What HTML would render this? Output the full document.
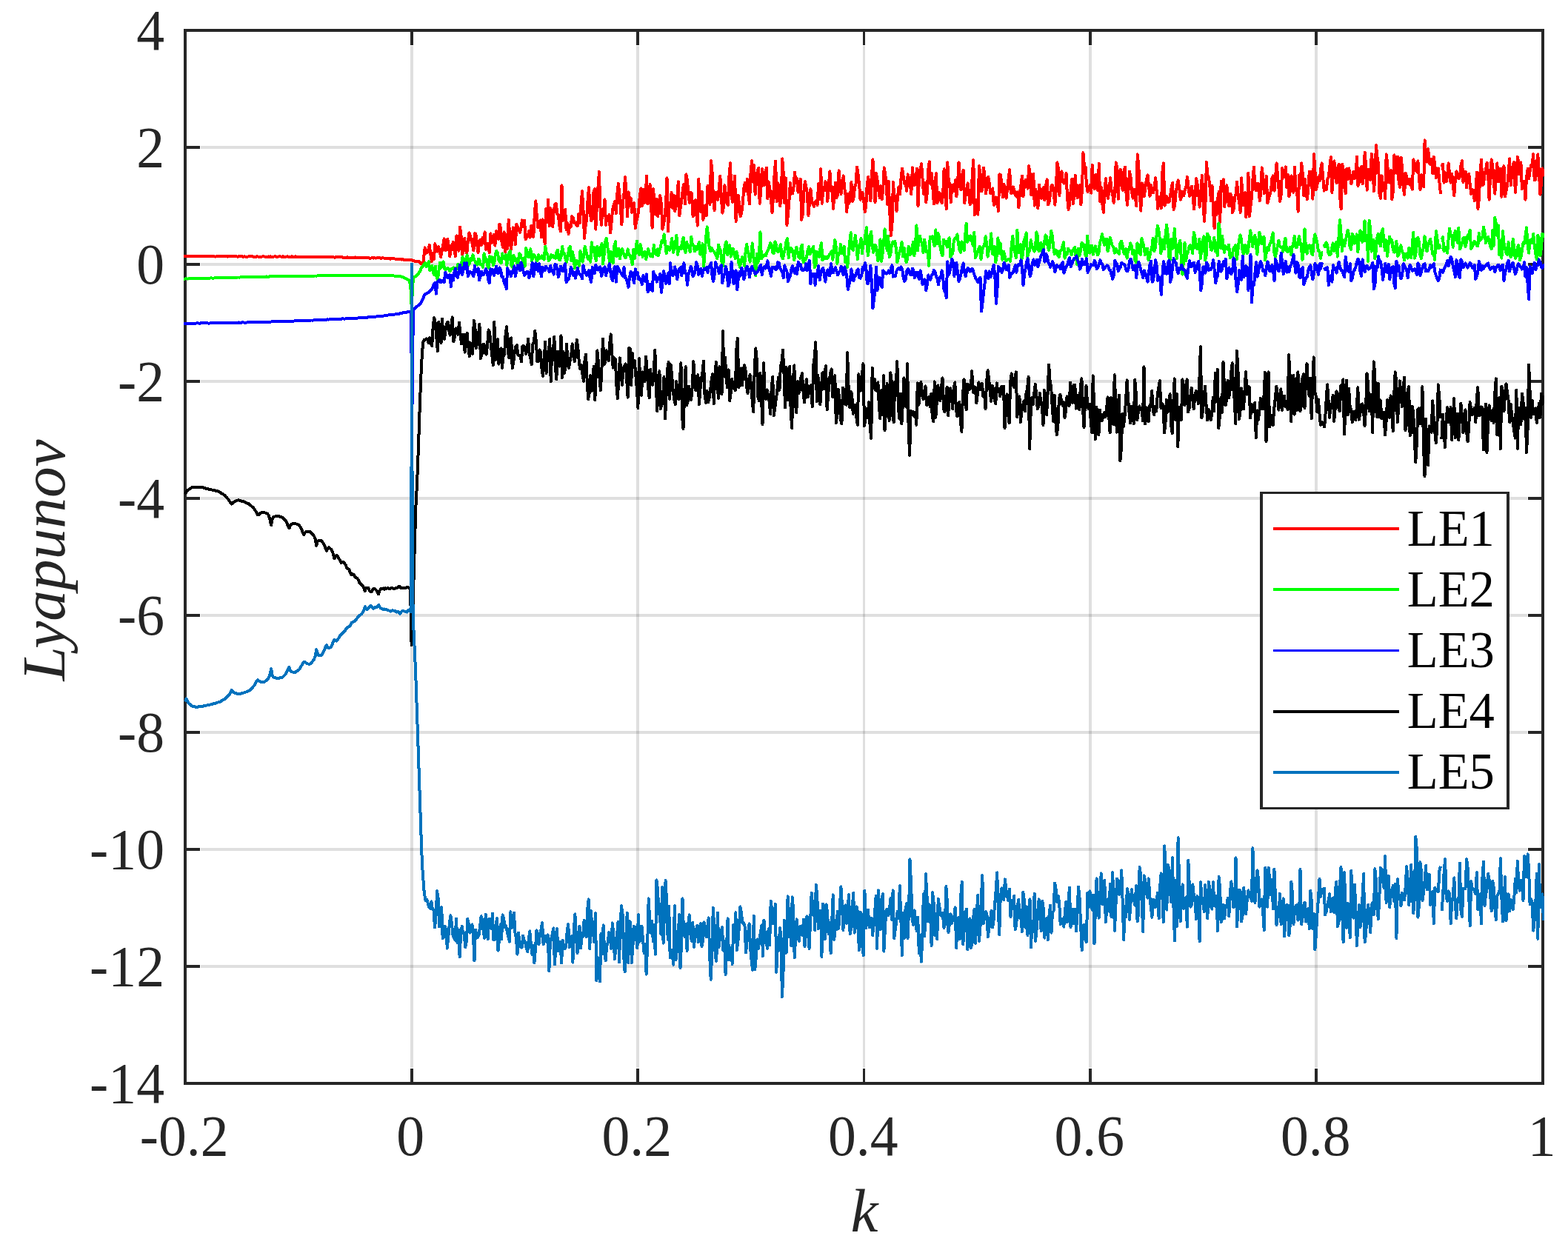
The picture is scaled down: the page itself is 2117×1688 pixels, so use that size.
<!DOCTYPE html>
<html lang="en"><head><meta charset="utf-8"><title>Lyapunov exponents versus k</title>
<style>
html,body{margin:0;padding:0;background:#fff;}
body{width:2117px;height:1688px;}
svg{display:block;}
text{font-family:"Liberation Serif",serif;}
.t{font-size:75.7px;fill:#262626;}
.l{font-size:83.3px;fill:#262626;font-style:italic;}
.g{font-size:68.6px;fill:#000;}
</style></head>
<body>
<svg width="2117" height="1688" viewBox="0 0 2117 1688">
<rect width="2117" height="1688" fill="#fff"/>
<g fill="#262626" fill-opacity="0.15" shape-rendering="crispEdges">
<rect x="554" y="62" width="4" height="1380"/>
<rect x="859" y="62" width="4" height="1380"/>
<rect x="1165" y="62" width="3" height="1380"/>
<rect x="1470" y="62" width="4" height="1380"/>
<rect x="1775" y="62" width="4" height="1380"/>
<rect x="271" y="197" width="1791" height="4"/>
<rect x="271" y="355" width="1791" height="4"/>
<rect x="271" y="513" width="1791" height="4"/>
<rect x="271" y="671" width="1791" height="4"/>
<rect x="271" y="829" width="1791" height="4"/>
<rect x="271" y="987" width="1791" height="4"/>
<rect x="271" y="1145" width="1791" height="4"/>
<rect x="271" y="1303" width="1791" height="4"/>
</g>
<g fill="#262626" shape-rendering="crispEdges">
<rect x="554" y="43" width="4" height="18"/><rect x="554" y="1443" width="4" height="18"/>
<rect x="859" y="43" width="4" height="18"/><rect x="859" y="1443" width="4" height="18"/>
<rect x="1165" y="43" width="3" height="18"/><rect x="1165" y="1443" width="3" height="18"/>
<rect x="1470" y="43" width="4" height="18"/><rect x="1470" y="1443" width="4" height="18"/>
<rect x="1775" y="43" width="4" height="18"/><rect x="1775" y="1443" width="4" height="18"/>
<rect x="252" y="197" width="18" height="4"/><rect x="2063" y="197" width="18" height="4"/>
<rect x="252" y="355" width="18" height="4"/><rect x="2063" y="355" width="18" height="4"/>
<rect x="252" y="513" width="18" height="4"/><rect x="2063" y="513" width="18" height="4"/>
<rect x="252" y="671" width="18" height="4"/><rect x="2063" y="671" width="18" height="4"/>
<rect x="252" y="829" width="18" height="4"/><rect x="2063" y="829" width="18" height="4"/>
<rect x="252" y="987" width="18" height="4"/><rect x="2063" y="987" width="18" height="4"/>
<rect x="252" y="1145" width="18" height="4"/><rect x="2063" y="1145" width="18" height="4"/>
<rect x="252" y="1303" width="18" height="4"/><rect x="2063" y="1303" width="18" height="4"/>
</g>
<rect x="250.0" y="41.0" width="1833.0" height="1422.0" fill="none" stroke="#262626" stroke-width="4" shape-rendering="crispEdges"/>
<defs><clipPath id="c"><rect x="248.0" y="39.0" width="1837.0" height="1426.0"/></clipPath></defs>
<g clip-path="url(#c)" fill="none" stroke-width="4" stroke-linejoin="round" stroke-linecap="butt" shape-rendering="crispEdges">
<polyline stroke="#ff0000" points="248.0,346.1 249.5,345.7 251.1,346.4 252.6,346.4 254.1,346.0 255.6,346.2 257.1,345.8 258.7,345.8 260.2,345.9 261.7,346.3 263.2,345.8 264.8,346.5 266.3,345.7 267.8,345.8 269.4,345.8 270.9,346.4 272.4,346.0 273.9,346.1 275.4,346.0 277.0,346.3 278.5,346.1 280.0,345.9 281.6,346.1 283.1,346.0 284.6,345.9 286.1,346.5 287.6,346.4 289.2,346.4 290.7,346.6 292.2,346.2 293.8,346.2 295.3,346.2 296.8,346.2 298.3,346.4 299.9,345.9 301.4,346.3 302.9,346.3 304.4,346.2 305.9,345.9 307.5,346.5 309.0,345.9 310.5,346.4 312.1,346.0 313.6,345.9 315.1,346.1 316.6,346.0 318.1,346.1 319.7,346.5 321.2,346.6 322.7,346.3 324.2,346.5 325.8,346.4 327.3,346.4 328.8,346.8 330.3,346.3 331.9,346.8 333.4,346.6 334.9,346.6 336.4,346.0 338.0,346.1 339.5,346.0 341.0,346.3 342.6,346.9 344.1,346.8 345.6,346.8 347.1,346.1 348.6,346.7 350.2,346.7 351.7,346.8 353.2,346.8 354.8,346.2 356.3,346.3 357.8,346.8 359.3,346.8 360.8,346.9 362.4,346.5 363.9,346.9 365.4,346.3 366.9,347.0 368.5,347.0 370.0,346.5 371.5,346.3 373.0,346.7 374.6,346.8 376.1,346.5 377.6,346.3 379.1,346.5 380.7,347.0 382.2,346.3 383.7,347.1 385.2,346.5 386.8,346.5 388.3,346.4 389.8,347.2 391.4,347.1 392.9,346.6 394.4,346.4 395.9,346.9 397.4,347.2 399.0,346.4 400.5,347.0 402.0,347.2 403.5,346.8 405.1,346.9 406.6,347.2 408.1,346.7 409.6,346.7 411.2,347.1 412.7,347.0 414.2,347.0 415.8,346.8 417.3,347.4 418.8,346.8 420.3,347.2 421.9,347.4 423.4,346.9 424.9,346.6 426.4,346.8 427.9,346.7 429.5,346.8 431.0,346.8 432.5,347.0 434.0,347.0 435.6,347.1 437.1,347.3 438.6,347.3 440.1,347.4 441.7,347.1 443.2,347.4 444.7,347.3 446.2,346.9 447.8,347.3 449.3,347.1 450.8,347.5 452.4,347.6 453.9,347.1 455.4,347.3 456.9,347.4 458.4,347.3 460.0,347.1 461.5,347.1 463.0,348.0 464.5,347.8 466.1,347.5 467.6,347.8 469.1,347.4 470.6,347.9 472.2,348.1 473.7,348.0 475.2,347.7 476.8,348.2 478.3,348.2 479.8,347.4 481.3,347.8 482.8,347.8 484.4,347.7 485.9,348.0 487.4,347.6 488.9,348.2 490.5,348.3 492.0,347.7 493.5,348.2 495.0,347.9 496.6,348.3 498.1,348.4 499.6,348.7 501.1,348.5 502.7,348.2 504.2,348.6 505.7,348.1 507.2,348.6 508.8,348.4 510.3,348.3 511.8,348.3 513.3,348.4 514.9,348.9 516.4,348.3 517.9,348.5 519.5,348.5 521.0,348.6 522.5,349.2 524.0,349.1 525.5,349.3 527.1,349.6 528.6,349.3 530.1,349.0 531.6,349.2 533.2,349.6 534.7,349.9 536.2,350.2 537.8,349.9 539.3,349.7 540.8,350.2 542.3,350.6 543.8,350.2 545.4,350.9 546.9,351.1 548.4,350.9 550.0,351.0 551.5,350.7 553.0,350.8 554.5,350.8 556.0,351.4 557.6,351.7 559.1,352.5 560.6,352.8 562.1,353.2 563.7,352.6 565.2,353.0 566.7,354.4 568.2,355.8 569.8,356.4 571.3,354.9 573.7,334.4 575.2,341.6 576.8,341.2 578.3,337.4 579.8,331.1 581.3,344.1 582.9,353.0 584.4,342.0 585.9,350.1 587.4,329.2 589.0,337.8 590.5,339.7 592.0,333.4 593.5,338.6 595.1,347.3 596.6,339.4 598.1,331.7 599.7,322.5 601.2,338.3 602.7,336.3 604.2,322.5 605.8,332.2 607.3,346.3 608.8,336.9 610.3,331.4 611.9,326.8 613.4,337.9 614.9,346.3 616.5,318.3 618.0,328.3 619.5,338.8 621.0,306.4 622.6,319.2 624.1,344.0 625.6,338.9 627.1,322.0 628.7,332.9 630.2,342.5 631.7,327.4 633.3,314.5 634.8,317.7 636.3,325.1 637.8,329.8 639.4,338.3 640.9,315.4 642.4,315.9 643.9,327.0 645.5,341.1 647.0,329.7 648.5,323.6 650.0,330.7 651.6,320.6 653.1,328.6 654.6,313.5 656.2,336.9 657.7,335.0 659.2,328.9 660.7,341.1 662.3,315.4 663.8,328.3 665.3,327.1 666.8,316.8 668.4,331.6 669.9,312.2 671.4,321.5 673.0,322.6 674.5,302.6 676.0,307.8 677.5,327.0 679.1,334.0 680.6,313.5 682.1,340.2 683.6,317.1 685.2,335.9 686.7,296.5 688.2,316.0 689.8,336.9 691.3,326.3 692.8,307.4 694.3,311.3 695.9,330.2 697.4,302.6 698.9,306.9 700.4,309.5 702.0,314.1 703.5,307.2 705.0,297.4 706.5,306.3 708.1,297.9 709.6,323.1 711.1,320.7 712.7,318.5 714.2,312.1 715.7,320.7 717.2,304.5 718.8,310.8 720.3,319.8 721.8,288.7 723.3,271.3 724.9,293.8 726.4,307.5 727.9,301.8 729.5,297.4 731.0,320.3 732.5,296.5 734.0,309.0 735.6,329.3 737.1,282.2 738.6,300.4 740.1,269.4 741.7,305.2 743.2,281.3 744.7,287.9 746.3,306.1 747.8,283.7 749.3,275.6 750.8,275.1 752.4,289.0 753.9,290.1 755.4,305.7 756.9,312.4 758.5,250.2 760.0,298.2 761.5,291.3 763.1,282.9 764.6,310.3 766.1,301.4 767.6,316.0 769.2,303.7 770.7,306.0 772.2,292.2 773.7,293.8 775.3,300.8 776.8,301.1 778.3,304.6 779.8,305.3 781.4,288.6 782.9,301.3 784.4,277.1 786.0,258.1 787.5,283.4 789.0,321.7 790.5,305.5 792.1,296.2 793.6,269.5 795.1,253.1 796.6,285.4 798.2,298.2 799.7,295.9 801.2,260.6 802.8,255.2 804.3,309.6 805.8,280.0 807.3,255.4 808.9,232.0 810.4,279.1 811.9,303.9 813.4,284.1 815.0,285.4 816.5,269.4 818.0,303.9 819.6,292.4 821.1,296.7 822.6,290.1 824.1,314.6 825.7,299.4 827.2,282.1 828.7,276.6 830.2,271.6 831.8,288.3 833.3,262.1 834.8,248.1 836.3,260.3 837.9,280.5 839.4,303.2 840.9,274.3 842.5,261.6 844.0,239.2 845.5,258.5 847.0,292.5 848.6,259.5 850.1,278.6 851.6,267.3 853.1,286.9 854.7,275.6 856.2,274.4 857.7,307.9 859.3,298.6 860.8,292.7 862.3,284.1 863.8,263.9 865.4,254.5 866.9,278.3 868.4,255.9 869.9,274.1 871.5,271.5 873.0,237.5 874.5,275.5 876.1,271.1 877.6,249.0 879.1,278.8 880.6,307.5 882.2,255.2 883.7,281.2 885.2,289.6 886.7,268.7 888.3,292.5 889.8,272.9 891.3,264.2 892.8,274.7 894.4,309.6 895.9,303.2 897.4,294.4 899.0,275.9 900.5,240.3 902.0,312.4 903.5,281.0 905.1,277.0 906.6,259.9 908.1,280.9 909.6,263.8 911.2,285.4 912.7,278.7 914.2,266.9 915.8,245.3 917.3,291.1 918.8,280.0 920.3,270.2 921.9,255.5 923.4,248.8 924.9,275.5 926.4,235.3 928.0,243.8 929.5,263.7 931.0,273.9 932.6,259.8 934.1,261.6 935.6,292.5 937.1,290.1 938.7,270.2 940.2,273.2 941.7,304.6 943.2,242.0 944.8,266.6 946.3,286.4 947.8,258.8 949.4,296.8 950.9,286.3 952.4,277.5 953.9,291.1 955.5,251.0 957.0,265.1 958.5,275.9 960.0,217.3 961.6,233.4 963.1,270.2 964.6,284.0 966.1,259.5 967.7,267.1 969.2,270.0 970.7,254.9 972.3,237.5 973.8,264.9 975.3,287.6 976.8,280.8 978.4,250.2 979.9,262.7 981.4,274.2 982.9,276.9 984.5,237.3 986.0,220.1 987.5,265.3 989.1,272.9 990.6,255.6 992.1,237.5 993.6,298.9 995.2,280.1 996.7,263.8 998.2,278.0 999.7,292.5 1001.3,286.8 1002.8,275.1 1004.3,254.3 1005.9,246.7 1007.4,258.4 1008.9,241.7 1010.4,263.4 1012.0,275.5 1013.5,234.7 1015.0,217.1 1016.5,245.7 1018.1,223.2 1019.6,262.7 1021.1,243.9 1022.6,231.0 1024.2,226.5 1025.7,274.8 1027.2,258.5 1028.8,228.2 1030.3,240.6 1031.8,250.3 1033.3,232.1 1034.9,226.5 1036.4,268.4 1037.9,246.0 1039.4,255.0 1041.0,269.6 1042.5,286.9 1044.0,267.0 1045.6,235.4 1047.1,217.5 1048.6,272.3 1050.1,247.4 1051.7,251.1 1053.2,278.3 1054.7,267.1 1056.2,214.4 1057.8,234.3 1059.3,274.2 1060.8,240.3 1062.4,303.9 1063.9,290.9 1065.4,271.2 1066.9,246.7 1068.5,261.7 1070.0,261.3 1071.5,253.5 1073.0,232.5 1074.6,247.4 1076.1,241.1 1077.6,259.6 1079.1,254.6 1080.7,241.7 1082.2,296.8 1083.7,289.5 1085.3,258.9 1086.8,245.3 1088.3,252.4 1089.8,260.4 1091.4,291.1 1092.9,275.3 1094.4,255.2 1095.9,269.8 1097.5,275.8 1099.0,279.0 1100.5,273.0 1102.1,271.4 1103.6,276.9 1105.1,248.1 1106.6,269.0 1108.2,228.2 1109.7,274.8 1111.2,258.6 1112.7,256.7 1114.3,245.3 1115.8,247.0 1117.3,271.9 1118.9,249.5 1120.4,231.5 1121.9,257.9 1123.4,252.2 1125.0,281.9 1126.5,260.5 1128.0,246.7 1129.5,267.1 1131.1,263.3 1132.6,230.3 1134.1,248.8 1135.6,262.0 1137.2,250.3 1138.7,237.5 1140.2,253.9 1141.8,264.7 1143.3,286.1 1144.8,261.6 1146.3,274.8 1147.9,265.7 1149.4,246.0 1150.9,271.9 1152.4,267.8 1154.0,253.2 1155.5,248.1 1157.0,225.4 1158.6,235.5 1160.1,249.4 1161.6,269.8 1163.1,265.4 1164.7,260.2 1166.2,270.7 1167.7,286.1 1169.2,278.7 1170.8,248.2 1172.3,238.9 1173.8,256.5 1175.4,271.1 1176.9,238.5 1178.4,215.4 1179.9,239.6 1181.5,273.3 1183.0,233.9 1184.5,242.9 1186.0,254.9 1187.6,267.0 1189.1,251.0 1190.6,269.3 1192.2,256.6 1193.7,226.4 1195.2,235.2 1196.7,250.8 1198.3,276.2 1199.8,244.6 1201.3,286.8 1202.8,318.1 1204.4,305.1 1205.9,246.0 1207.4,266.6 1208.9,264.6 1210.5,285.2 1212.0,265.4 1213.5,252.4 1215.1,262.5 1216.6,239.4 1218.1,227.5 1219.6,237.3 1221.2,248.1 1222.7,247.6 1224.2,257.7 1225.7,235.3 1227.3,241.6 1228.8,249.0 1230.3,262.0 1231.9,226.4 1233.4,244.3 1234.9,250.2 1236.4,244.1 1238.0,227.5 1239.5,278.3 1241.0,239.2 1242.5,228.3 1244.1,221.1 1245.6,242.6 1247.1,262.0 1248.7,246.7 1250.2,273.3 1251.7,261.5 1253.2,228.9 1254.8,218.3 1256.3,248.6 1257.8,233.9 1259.3,253.1 1260.9,275.5 1262.4,247.7 1263.9,234.3 1265.4,274.2 1267.0,271.0 1268.5,260.2 1270.0,265.4 1271.6,274.1 1273.1,264.6 1274.6,228.2 1276.1,252.2 1277.7,282.3 1279.2,219.3 1280.7,242.6 1282.2,248.7 1283.8,273.3 1285.3,249.5 1286.8,250.8 1288.4,258.2 1289.9,243.1 1291.4,265.5 1292.9,249.8 1294.5,219.3 1296.0,241.5 1297.5,256.5 1299.0,239.1 1300.6,229.6 1302.1,274.1 1303.6,264.6 1305.2,255.2 1306.7,247.4 1308.2,261.9 1309.7,276.2 1311.3,272.8 1312.8,234.7 1314.3,216.1 1315.8,290.4 1317.4,281.7 1318.9,269.7 1320.4,289.7 1321.9,224.2 1323.5,234.3 1325.0,258.6 1326.5,254.4 1328.1,226.4 1329.6,239.9 1331.1,261.3 1332.6,249.0 1334.2,238.9 1335.7,246.8 1337.2,261.2 1338.7,261.1 1340.3,254.5 1341.8,276.9 1343.3,275.7 1344.9,266.4 1346.4,267.6 1347.9,285.2 1349.4,235.3 1351.0,236.0 1352.5,250.0 1354.0,266.2 1355.5,248.8 1357.1,257.1 1358.6,267.7 1360.1,255.4 1361.7,240.7 1363.2,229.2 1364.7,260.6 1366.2,260.7 1367.8,252.4 1369.3,255.9 1370.8,263.8 1372.3,264.8 1373.9,259.5 1375.4,280.5 1376.9,260.6 1378.5,249.2 1380.0,237.5 1381.5,265.5 1383.0,250.4 1384.6,243.1 1386.1,242.7 1387.6,254.8 1389.1,224.2 1390.7,234.7 1392.2,263.0 1393.7,243.5 1395.2,234.6 1396.8,277.6 1398.3,256.1 1399.8,264.7 1401.4,281.5 1402.9,249.5 1404.4,257.4 1405.9,267.8 1407.5,257.9 1409.0,253.1 1410.5,270.5 1412.0,251.5 1413.6,242.4 1415.1,276.6 1416.6,272.7 1418.2,260.5 1419.7,250.2 1421.2,250.4 1422.7,260.6 1424.3,276.6 1425.8,255.5 1427.3,219.3 1428.8,226.9 1430.4,264.1 1431.9,240.5 1433.4,231.5 1435.0,245.6 1436.5,247.6 1438.0,246.8 1439.5,233.9 1441.1,268.1 1442.6,282.9 1444.1,276.1 1445.6,258.1 1447.2,241.7 1448.7,275.5 1450.2,266.0 1451.7,236.7 1453.3,259.7 1454.8,267.0 1456.3,251.0 1457.9,250.2 1459.4,276.2 1460.9,257.2 1462.4,206.2 1464.0,224.6 1465.5,225.3 1467.0,249.6 1468.5,259.1 1470.1,254.7 1471.6,250.2 1473.1,260.6 1474.7,222.5 1476.2,248.3 1477.7,255.3 1479.2,236.0 1480.8,253.7 1482.3,257.4 1483.8,220.7 1485.3,271.9 1486.9,253.3 1488.4,276.3 1489.9,286.9 1491.5,256.5 1493.0,241.0 1494.5,262.8 1496.0,267.7 1497.6,255.4 1499.1,240.3 1500.6,256.4 1502.1,261.5 1503.7,273.8 1505.2,260.9 1506.7,219.3 1508.2,227.3 1509.8,268.7 1511.3,232.5 1512.8,228.9 1514.4,251.2 1515.9,256.7 1517.4,231.8 1518.9,225.6 1520.5,260.5 1522.0,276.9 1523.5,257.2 1525.0,231.5 1526.6,240.0 1528.1,259.6 1529.6,267.7 1531.2,255.9 1532.7,264.8 1534.2,278.2 1535.7,208.3 1537.3,222.9 1538.8,263.0 1540.3,284.7 1541.8,247.4 1543.4,249.3 1544.9,265.4 1546.4,252.5 1548.0,241.9 1549.5,236.5 1551.0,250.7 1552.5,264.8 1554.1,250.2 1555.6,256.9 1557.1,260.4 1558.6,252.0 1560.2,240.3 1561.7,258.2 1563.2,281.9 1564.8,265.9 1566.3,275.7 1567.8,281.1 1569.3,233.1 1570.9,220.4 1572.4,277.6 1573.9,273.1 1575.4,265.2 1577.0,273.3 1578.5,272.7 1580.0,264.2 1581.5,254.2 1583.1,246.7 1584.6,282.9 1586.1,277.3 1587.7,258.9 1589.2,249.6 1590.7,243.4 1592.2,253.4 1593.8,269.7 1595.3,265.3 1596.8,258.8 1598.3,264.1 1599.9,255.4 1601.4,252.4 1602.9,238.6 1604.5,251.8 1606.0,265.0 1607.5,260.5 1609.0,251.7 1610.6,265.1 1612.1,282.6 1613.6,265.3 1615.1,241.0 1616.7,248.7 1618.2,262.2 1619.7,279.7 1621.3,267.1 1622.8,236.5 1624.3,258.2 1625.8,298.9 1627.4,277.6 1628.9,218.7 1630.4,237.2 1631.9,238.7 1633.5,253.1 1635.0,271.2 1636.5,251.0 1638.0,284.3 1639.6,308.5 1641.1,273.0 1642.6,290.1 1644.2,267.6 1645.7,258.8 1647.2,299.7 1648.7,244.6 1650.3,248.6 1651.8,242.4 1653.3,279.0 1654.8,260.9 1656.4,250.2 1657.9,270.6 1659.4,278.2 1661.0,261.6 1662.5,265.1 1664.0,287.1 1665.5,283.1 1667.1,266.4 1668.6,261.8 1670.1,245.7 1671.6,265.8 1673.2,273.2 1674.7,286.9 1676.2,240.3 1677.8,276.8 1679.3,276.7 1680.8,260.2 1682.3,293.0 1683.9,277.0 1685.4,233.5 1686.9,292.1 1688.4,279.1 1690.0,266.6 1691.5,241.0 1693.0,225.4 1694.5,255.6 1696.1,257.3 1697.6,248.1 1699.1,248.1 1700.7,270.9 1702.2,262.2 1703.7,226.4 1705.2,239.4 1706.8,261.0 1708.3,257.6 1709.8,237.5 1711.3,274.1 1712.9,267.9 1714.4,263.0 1715.9,257.7 1717.5,240.6 1719.0,237.5 1720.5,257.7 1722.0,239.7 1723.6,220.4 1725.1,238.1 1726.6,255.8 1728.1,271.9 1729.7,262.4 1731.2,227.2 1732.7,231.9 1734.3,239.5 1735.8,225.4 1737.3,252.9 1738.8,236.0 1740.4,265.5 1741.9,257.3 1743.4,237.5 1744.9,253.1 1746.5,259.8 1748.0,225.8 1749.5,256.5 1751.0,254.9 1752.6,285.7 1754.1,236.7 1755.6,250.4 1757.2,220.4 1758.7,233.2 1760.2,264.1 1761.7,241.7 1763.3,255.4 1764.8,269.1 1766.3,255.4 1767.8,231.5 1769.4,231.7 1770.9,246.4 1772.4,268.7 1774.0,208.3 1775.5,231.6 1777.0,256.2 1778.5,248.7 1780.1,238.9 1781.6,244.2 1783.1,228.6 1784.6,220.4 1786.2,238.8 1787.7,257.7 1789.2,251.7 1790.8,256.0 1792.3,242.3 1793.8,239.4 1795.3,224.9 1796.9,212.3 1798.4,260.1 1799.9,226.2 1801.4,217.5 1803.0,239.5 1804.5,247.0 1806.0,227.3 1807.6,221.8 1809.1,264.6 1810.6,282.2 1812.1,221.8 1813.7,229.0 1815.2,253.0 1816.7,261.0 1818.2,227.5 1819.8,241.9 1821.3,227.5 1822.8,236.4 1824.3,248.5 1825.9,240.4 1827.4,231.8 1828.9,240.8 1830.5,238.5 1832.0,211.6 1833.5,251.0 1835.0,246.5 1836.6,229.2 1838.1,224.7 1839.6,248.5 1841.1,238.3 1842.7,205.5 1844.2,225.0 1845.7,256.7 1847.3,228.9 1848.8,234.5 1850.3,242.9 1851.8,207.6 1853.4,222.0 1854.9,258.4 1856.4,239.5 1857.9,196.2 1859.5,212.2 1861.0,220.7 1862.5,261.5 1864.1,268.1 1865.6,237.5 1867.1,255.6 1868.6,247.2 1870.2,268.1 1871.7,208.3 1873.2,220.3 1874.7,246.1 1876.3,230.8 1877.8,230.3 1879.3,269.1 1880.8,258.6 1882.4,209.3 1883.9,216.8 1885.4,233.6 1887.0,211.9 1888.5,244.3 1890.0,252.7 1891.5,212.6 1893.1,226.4 1894.6,251.9 1896.1,263.0 1897.6,233.9 1899.2,238.5 1900.7,248.2 1902.2,248.6 1903.8,241.7 1905.3,251.3 1906.8,255.6 1908.3,215.4 1909.9,220.5 1911.4,229.6 1912.9,231.6 1914.4,217.5 1916.0,242.2 1917.5,256.0 1919.0,236.0 1920.6,242.6 1922.1,252.2 1923.6,189.4 1925.1,207.5 1926.7,218.6 1928.2,201.2 1929.7,219.9 1931.2,221.8 1932.8,214.7 1934.3,234.3 1935.8,211.6 1937.3,222.2 1938.9,240.0 1940.4,228.5 1941.9,227.5 1943.5,247.0 1945.0,262.0"/>
<polyline stroke="#ff0000" points="1946.5,225.0 1948.0,221.5 1949.6,246.8 1951.1,233.2 1952.6,245.3 1954.1,237.4 1955.7,220.4 1957.2,236.9 1958.7,246.6 1960.3,234.6 1961.8,250.3 1963.3,264.1 1964.8,242.9 1966.4,231.5 1967.9,233.9 1969.4,241.4 1970.9,238.6 1972.5,223.6 1974.0,217.3 1975.5,246.0 1977.1,242.5 1978.6,231.8 1980.1,253.4 1981.6,236.9 1983.2,234.6 1984.7,248.4 1986.2,261.7 1987.7,255.9 1989.3,256.6 1990.8,271.4 1992.3,262.7 1993.9,232.5 1995.4,281.9 1996.9,268.3 1998.4,232.8 2000.0,215.4 2001.5,249.9 2003.0,248.3 2004.5,236.0 2006.1,228.9 2007.6,219.7 2009.1,233.7 2010.6,269.8 2012.2,234.6 2013.7,215.4 2015.2,223.6 2016.8,246.4 2018.3,261.7 2019.8,236.3 2021.3,220.4 2022.9,245.6 2024.4,233.3 2025.9,227.5 2027.4,265.8 2029.0,242.8 2030.5,224.2 2032.0,265.5 2033.6,257.6 2035.1,249.9 2036.6,234.5 2038.1,214.4 2039.7,249.9 2041.2,235.5 2042.7,222.2 2044.2,219.0 2045.8,259.8 2047.3,241.4 2048.8,212.1 2050.4,219.6 2051.9,235.3 2053.4,219.3 2054.9,255.2 2056.5,247.3 2058.0,244.6 2059.5,269.8 2061.0,239.6 2062.6,228.2 2064.1,241.4 2065.6,231.3 2067.1,223.6 2068.7,220.8 2070.2,208.3 2071.7,243.5 2073.3,242.6 2074.8,220.5 2076.3,208.3 2077.8,230.6 2079.4,262.7 2080.9,247.7 2082.4,227.5 2083.9,235.7 2085.5,234.7 2087.0,234.7"/>
<polyline stroke="#00ff00" points="248.0,376.5 249.5,376.6 251.1,376.4 252.6,376.5 254.1,376.5 255.7,376.3 257.2,376.4 258.7,376.3 260.2,376.1 261.8,376.2 263.3,376.2 264.8,376.1 266.4,376.2 267.9,376.1 269.4,376.0 271.0,375.9 272.5,375.8 274.0,375.9 275.5,375.9 277.1,375.8 278.6,375.7 280.1,375.7 281.7,375.6 283.2,375.6 284.7,375.4 286.3,375.5 287.8,375.5 289.3,375.5 290.8,375.3 292.4,375.2 293.9,375.2 295.4,375.3 297.0,375.2 298.5,375.2 300.0,375.1 301.6,375.0 303.1,375.1 304.6,374.9 306.2,374.9 307.7,374.9 309.2,374.9 310.7,374.8 312.3,374.8 313.8,374.7 315.3,374.7 316.9,374.7 318.4,374.7 319.9,374.6 321.5,374.5 323.0,374.6 324.5,374.4 326.0,374.4 327.6,374.5 329.1,374.4 330.6,374.2 332.2,374.3 333.7,374.2 335.2,374.3 336.8,374.2 338.3,374.1 339.8,374.2 341.3,374.0 342.9,374.0 344.4,374.1 345.9,374.1 347.5,373.8 349.0,373.7 350.5,373.9 352.1,373.9 353.6,373.7 355.1,373.7 356.7,373.8 358.2,373.8 359.7,373.5 361.2,373.6 362.8,373.6 364.3,373.4 365.8,373.5 367.4,373.4 368.9,373.4 370.4,373.3 372.0,373.2 373.5,373.3 375.0,373.2 376.5,373.2 378.1,373.2 379.6,373.2 381.1,373.2 382.7,373.2 384.2,373.1 385.7,373.0 387.3,373.0 388.8,373.0 390.3,373.1 391.8,372.9 393.4,373.0 394.9,373.1 396.4,373.0 398.0,372.9 399.5,373.0 401.0,372.9 402.6,372.7 404.1,372.7 405.6,372.7 407.2,372.8 408.7,372.7 410.2,372.8 411.7,372.8 413.3,372.8 414.8,372.6 416.3,372.5 417.9,372.5 419.4,372.5 420.9,372.6 422.5,372.6 424.0,372.6 425.5,372.5 427.0,372.6 428.6,372.5 430.1,372.4 431.6,372.5 433.2,372.3 434.7,372.4 436.2,372.4 437.8,372.4 439.3,372.1 440.8,372.1 442.3,372.3 443.9,372.1 445.4,372.1 446.9,372.2 448.5,372.1 450.0,372.2 451.5,372.2 453.1,372.0 454.6,371.9 456.1,372.1 457.7,371.9 459.2,371.9 460.7,371.8 462.2,371.7 463.8,371.9 465.3,371.8 466.8,371.9 468.4,372.0 469.9,371.9 471.4,372.0 473.0,371.7 474.5,371.9 476.0,371.9 477.5,372.0 479.1,371.7 480.6,371.9 482.1,371.9 483.7,371.9 485.2,371.8 486.7,371.8 488.3,372.0 489.8,371.9 491.3,371.9 492.8,372.0 494.4,371.8 495.9,371.7 497.4,371.9 499.0,371.7 500.5,371.9 502.0,371.9 503.6,371.7 505.1,371.7 506.6,371.7 508.2,371.7 509.7,372.0 511.2,371.8 512.7,372.0 514.3,371.8 515.8,371.8 517.3,371.9 518.9,371.8 520.4,372.0 521.9,371.9 523.5,372.0 525.0,372.0 526.5,372.0 528.0,372.3 529.6,372.2 531.1,372.4 532.6,372.6 534.2,372.6 535.7,372.7 537.2,373.0 538.8,373.3 540.3,373.3 541.8,373.6 543.3,374.1 544.9,374.5 546.4,375.2 547.9,376.0 549.5,377.0 551.0,377.5 552.6,379.5 553.9,384.0 554.6,392.0 555.0,402.0 555.6,413.0 556.4,402.0 556.9,394.0 557.3,384.0 558.2,376.5 559.6,374.0 562.0,372.6 564.2,370.3 567.0,366.5 569.0,361.7 571.0,359.3 572.6,357.0 574.2,355.2 575.7,360.1 577.2,357.8 578.8,353.3 580.3,365.3 581.8,361.9 583.3,358.7 584.9,368.4 586.4,371.0 587.9,359.5 589.5,373.6 591.0,377.6 592.5,365.0 594.0,354.7 595.6,361.7 597.1,355.7 598.6,353.3 600.1,362.6 601.7,364.3 603.2,362.6 604.7,362.3 606.3,364.3 607.8,366.2 609.3,363.3 610.8,362.7 612.4,361.4 613.9,363.2 615.4,362.2 617.0,363.4 618.5,356.6 620.0,357.7 621.5,361.1 623.1,355.2 624.6,347.2 626.1,361.5 627.7,350.1 629.2,351.4 630.7,344.3 632.2,358.2 633.8,355.5 635.3,348.6 636.8,351.6 638.4,344.3 639.9,350.2 641.4,352.7 642.9,356.5 644.5,357.7 646.0,349.5 647.5,351.0 649.0,357.5 650.6,357.4 652.1,360.6 653.6,342.4 655.2,348.8 656.7,350.2 658.2,359.4 659.7,361.5 661.3,346.2 662.8,352.8 664.3,347.2 665.9,358.2 667.4,355.0 668.9,343.2 670.4,339.1 672.0,341.8 673.5,351.8 675.0,353.9 676.6,355.3 678.1,342.4 679.6,349.4 681.1,347.1 682.7,343.8 684.2,358.2 685.7,350.7 687.3,342.0 688.8,338.6 690.3,357.8 691.8,360.6 693.4,344.8 694.9,348.9 696.4,349.2 697.9,355.6 699.5,356.8 701.0,342.4 702.5,343.6 704.1,348.8 705.6,348.7 707.1,356.6 708.6,359.6 710.2,335.3 711.7,341.0 713.2,347.5 714.8,341.8 716.3,336.3 717.8,352.0 719.3,348.7 720.9,343.8 722.4,346.2 723.9,350.1 725.5,352.0 727.0,344.3 728.5,349.4 730.0,348.3 731.6,345.3 733.1,349.4 734.6,350.6 736.2,332.9 737.7,341.1 739.2,343.5 740.7,352.0 742.3,350.9 743.8,344.3 745.3,347.4 746.8,344.8 748.4,347.8 749.9,348.8 751.4,340.9 753.0,337.7 754.5,349.7 756.0,351.5 757.5,347.5 759.1,332.7 760.6,340.6 762.1,342.5 763.7,350.8 765.2,353.7 766.7,345.7 768.2,335.5 769.8,332.7 771.3,352.1 772.8,339.8 774.4,346.4 775.9,362.2 777.4,354.2 778.9,351.9 780.5,355.2 782.0,358.7 783.5,339.1 785.0,348.3 786.6,353.7 788.1,346.1 789.6,333.0 791.2,338.2 792.7,345.9 794.2,350.4 795.7,346.0 797.3,353.7 798.8,327.3 800.3,340.4 801.9,334.0 803.4,346.2 804.9,352.3 806.4,332.7 808.0,344.7 809.5,345.7 811.0,333.8 812.6,329.2 814.1,356.5 815.6,344.4 817.1,327.0 818.7,321.6 820.2,332.5 821.7,343.1 823.3,356.5 824.8,339.8 826.3,350.6 827.8,355.1 829.4,332.1 830.9,326.3 832.4,346.3 833.9,343.5 835.5,335.6 837.0,349.4 838.5,338.5 840.1,336.3 841.6,341.1 843.1,346.2 844.6,348.0 846.2,344.1 847.7,336.3 849.2,344.4 850.8,344.8 852.3,350.2 853.8,357.2 855.3,337.0 856.9,349.4 858.4,335.7 859.9,325.6 861.5,339.9 863.0,343.7 864.5,329.9 866.0,335.6 867.6,346.9 869.1,341.6 870.6,339.8 872.2,350.1 873.7,344.4 875.2,336.3 876.7,342.1 878.3,346.0 879.8,342.6 881.3,346.6 882.8,330.6 884.4,342.5 885.9,344.0 887.4,336.3 889.0,345.2 890.5,337.8 892.0,332.8 893.5,325.0 895.1,327.4 896.6,316.4 898.1,328.3 899.7,342.3 901.2,332.7 902.7,334.7 904.2,338.0 905.8,330.7 907.3,322.0 908.8,340.9 910.4,335.5 911.9,328.3 913.4,317.8 914.9,343.7 916.5,336.6 918.0,333.6 919.5,336.4 921.1,327.3 922.6,320.6 924.1,335.8 925.6,340.9 927.2,327.0 928.7,331.7 930.2,335.0 931.7,340.2 933.3,319.6 934.8,330.4 936.3,331.8 937.9,339.5 939.4,332.7 940.9,337.3 942.4,332.6 944.0,327.0 945.5,343.7 947.0,340.6 948.6,329.2 950.1,360.1 951.6,342.0 953.1,321.0 954.7,306.4 956.2,318.9 957.7,334.4 959.3,339.5 960.8,334.8 962.3,338.5 963.8,339.5 965.4,342.0 966.9,344.7 968.4,349.4 970.0,330.6 971.5,335.6 973.0,339.0 974.5,354.0 976.1,359.4 977.6,342.4 979.1,330.1 980.6,326.3 982.2,344.4 983.7,335.8 985.2,331.3 986.8,346.6 988.3,339.6 989.8,335.6 991.3,344.4 992.9,349.3 994.4,339.8 995.9,346.0 997.5,355.5 999.0,360.8 1000.5,353.4 1002.0,346.9 1003.6,349.6 1005.1,358.7 1006.6,340.3 1008.2,329.9 1009.7,339.1 1011.2,345.6 1012.7,353.7 1014.3,343.8 1015.8,328.4 1017.3,345.3 1018.9,357.7 1020.4,372.2 1021.9,342.7 1023.4,354.9 1025.0,341.2 1026.5,313.5 1028.0,349.4 1029.5,345.7 1031.1,345.8 1032.6,344.1 1034.1,345.2 1035.7,340.1 1037.2,337.6 1038.7,332.9 1040.2,328.4 1041.8,330.7 1043.3,340.8 1044.8,342.3 1046.4,326.3 1047.9,330.9 1049.4,339.3 1050.9,340.0 1052.5,334.0 1054.0,329.9 1055.5,346.4 1057.1,349.4 1058.6,341.8 1060.1,335.7 1061.6,326.1 1063.2,322.0 1064.7,348.0 1066.2,337.1 1067.8,334.8 1069.3,336.6 1070.8,342.7 1072.3,351.5 1073.9,339.5 1075.4,334.1 1076.9,341.4 1078.4,346.9 1080.0,349.2 1081.5,333.9 1083.0,330.6 1084.6,354.4 1086.1,349.2 1087.6,350.8 1089.1,347.3 1090.7,337.2 1092.2,333.4 1093.7,342.9 1095.3,340.1 1096.8,335.9 1098.3,332.7 1099.8,361.5 1101.4,357.9 1102.9,339.8 1104.4,343.3 1106.0,347.0 1107.5,335.1 1109.0,328.4 1110.5,351.5 1112.1,346.3 1113.6,348.8 1115.1,346.9 1116.6,349.4 1118.2,347.7 1119.7,343.5 1121.2,342.9 1122.8,339.1 1124.3,350.8 1125.8,337.9 1127.3,324.2 1128.9,334.3 1130.4,355.8 1131.9,342.0 1133.5,342.5 1135.0,329.9 1136.5,342.0 1138.0,340.4 1139.6,332.7 1141.1,353.9 1142.6,349.6 1144.2,360.8 1145.7,342.4 1147.2,326.9 1148.7,314.2 1150.3,336.5 1151.8,337.8 1153.3,327.4 1154.9,317.8 1156.4,332.3 1157.9,350.1 1159.4,332.3 1161.0,331.1 1162.5,322.0 1164.0,342.3 1165.5,327.0 1167.1,329.3 1168.6,315.0 1170.1,307.1 1171.7,345.2 1173.2,336.2 1174.7,318.8 1176.2,312.8 1177.8,332.9 1179.3,340.9 1180.8,330.7 1182.4,331.3 1183.9,340.7 1185.4,352.3 1186.9,343.5 1188.5,323.5 1190.0,353.0 1191.5,343.0 1193.1,326.7 1194.6,309.3 1196.1,322.4 1197.6,338.1 1199.2,318.5 1200.7,347.3 1202.2,344.3 1203.8,331.2 1205.3,326.5 1206.8,328.7 1208.3,325.6 1209.9,335.9 1211.4,354.4 1212.9,348.4 1214.4,340.6 1216.0,336.5 1217.5,327.0 1219.0,346.6 1220.6,334.7 1222.1,347.2 1223.6,354.4 1225.1,349.3 1226.7,332.7 1228.2,344.4 1229.7,343.0 1231.3,335.8 1232.8,327.0 1234.3,345.2 1235.8,335.7 1237.4,304.3 1238.9,338.5 1240.4,324.4 1242.0,318.5 1243.5,326.4 1245.0,328.4 1246.5,340.9 1248.1,323.5 1249.6,332.0 1251.1,340.6 1252.7,340.5 1254.2,358.7 1255.7,319.6 1257.2,321.7 1258.8,319.2 1260.3,326.6 1261.8,332.4 1263.3,310.4 1264.9,329.5 1266.4,314.9 1267.9,319.0 1269.5,334.2 1271.0,341.2 1272.5,345.2 1274.0,323.5 1275.6,325.9 1277.1,325.5 1278.6,333.7 1280.2,324.8 1281.7,321.3 1283.2,347.3 1284.7,343.3 1286.3,342.6 1287.8,325.1 1289.3,321.4 1290.9,320.8 1292.4,316.4 1293.9,328.6 1295.4,337.8 1297.0,340.9 1298.5,326.3 1300.0,329.4 1301.6,338.4 1303.1,318.9 1304.6,301.7 1306.1,326.7 1307.7,318.6 1309.2,324.4 1310.7,318.5 1312.2,325.0 1313.8,331.7 1315.3,313.5 1316.8,348.0 1318.4,345.1 1319.9,340.8 1321.4,335.2 1322.9,332.7 1324.5,350.1 1326.0,339.1 1327.5,332.9 1329.1,331.5 1330.6,319.2 1332.1,329.2 1333.6,346.6 1335.2,337.2 1336.7,331.7 1338.2,315.4 1339.8,342.4 1341.3,343.6 1342.8,332.7 1344.3,354.4 1345.9,344.4 1347.4,321.3 1348.9,341.8 1350.5,328.4 1352.0,341.5 1353.5,350.8 1355.0,339.5 1356.6,345.2 1358.1,352.1 1359.6,351.5 1361.1,349.8 1362.7,350.5 1364.2,353.0 1365.7,331.4 1367.3,318.8 1368.8,337.5 1370.3,340.4 1371.8,348.0 1373.4,310.7 1374.9,341.6 1376.4,338.0 1378.0,329.9 1379.5,349.4 1381.0,344.6 1382.5,325.2 1384.1,320.9 1385.6,314.5 1387.1,346.6 1388.7,341.2 1390.2,338.3 1391.7,324.2 1393.2,331.7 1394.8,335.8 1396.3,339.5 1397.8,336.8 1399.4,313.5 1400.9,318.9 1402.4,338.8 1403.9,338.3 1405.5,327.7 1407.0,340.9 1408.5,337.3 1410.0,327.7 1411.6,317.4 1413.1,319.3 1414.6,333.0 1416.2,338.0 1417.7,327.5 1419.2,311.7 1420.7,317.9 1422.3,334.2 1423.8,343.2 1425.3,338.2 1426.9,338.4 1428.4,345.1 1429.9,347.3 1431.4,338.5 1433.0,337.7 1434.5,332.8 1436.0,327.3 1437.6,348.7 1439.1,343.5 1440.6,343.7 1442.1,335.6 1443.7,338.9 1445.2,338.8 1446.7,344.4 1448.2,337.7 1449.8,336.0 1451.3,333.8 1452.8,348.1 1454.4,357.2 1455.9,335.7 1457.4,345.2 1458.9,338.6 1460.5,327.7 1462.0,330.4 1463.5,330.4 1465.1,343.3 1466.6,346.6 1468.1,318.5 1469.6,340.5 1471.2,341.5 1472.7,331.9 1474.2,332.0 1475.8,343.7 1477.3,336.7 1478.8,332.4 1480.3,337.7 1481.9,344.4 1483.4,341.8 1484.9,328.0 1486.5,323.2 1488.0,316.4 1489.5,325.8 1491.0,330.7 1492.6,323.1 1494.1,322.8 1495.6,339.5 1497.1,333.0 1498.7,320.6 1500.2,325.8 1501.7,331.6 1503.3,333.8 1504.8,341.6 1506.3,335.6 1507.8,338.4 1509.4,341.3 1510.9,343.0 1512.4,329.1 1514.0,325.6 1515.5,330.6 1517.0,340.9 1518.5,343.1 1520.1,336.3 1521.6,348.7 1523.1,336.8 1524.7,337.5 1526.2,328.4 1527.7,331.5 1529.2,342.8 1530.8,338.2 1532.3,350.8 1533.8,354.4 1535.4,328.4 1536.9,329.8 1538.4,341.9 1539.9,343.7 1541.5,322.0 1543.0,327.7 1544.5,333.7 1546.0,344.2 1547.6,341.0 1549.1,335.6 1550.6,351.5 1552.2,346.9 1553.7,338.1 1555.2,334.7 1556.7,321.6 1558.3,339.5 1559.8,335.0 1561.3,320.4 1562.9,304.6 1564.4,311.2 1565.9,322.7 1567.4,342.3 1569.0,323.5 1570.5,327.1 1572.0,336.3 1573.6,317.4 1575.1,303.6 1576.6,315.8 1578.1,346.2 1579.7,351.5 1581.2,322.8 1582.7,336.4 1584.3,333.4 1585.8,308.5 1587.3,333.9 1588.8,349.4 1590.4,333.3 1591.9,328.6 1593.4,324.9 1594.9,350.4 1596.5,370.7 1598.0,351.7 1599.5,327.7 1601.1,352.3 1602.6,343.3 1604.1,339.7 1605.6,332.7 1607.2,331.4 1608.7,333.1 1610.2,342.3 1611.8,313.5 1613.3,318.8 1614.8,334.6 1616.3,336.2 1617.9,331.1 1619.4,322.8 1620.9,349.4 1622.5,334.7 1624.0,323.8 1625.5,319.2 1627.0,351.5 1628.6,345.6 1630.1,315.6 1631.6,319.8 1633.2,320.4 1634.7,337.2 1636.2,338.0 1637.7,331.8 1639.3,320.6 1640.8,339.2 1642.3,330.9 1643.8,345.2 1645.4,301.4 1646.9,310.1 1648.4,335.5 1650.0,318.5 1651.5,330.3 1653.0,340.9 1654.5,332.4 1656.1,334.4 1657.6,336.4 1659.1,330.6 1660.7,348.0 1662.2,346.3 1663.7,345.5 1665.2,335.7 1666.8,333.4 1668.3,331.3 1669.8,350.1 1671.4,338.4 1672.9,324.7 1674.4,317.4 1675.9,322.9 1677.5,337.9 1679.0,343.0 1680.5,331.3 1682.1,331.7 1683.6,342.3 1685.1,339.7 1686.6,324.1 1688.2,311.4 1689.7,320.2 1691.2,333.5 1692.7,321.6 1694.3,317.8 1695.8,330.2 1697.3,343.7 1698.9,328.2 1700.4,313.9 1701.9,319.2 1703.4,329.2 1705.0,322.2 1706.5,319.6 1708.0,351.5 1709.6,342.2 1711.1,334.1 1712.6,338.0 1714.1,330.2 1715.7,327.7 1717.2,320.4 1718.7,314.5 1720.3,340.5 1721.8,346.6 1723.3,341.0 1724.8,332.3 1726.4,324.9 1727.9,333.0 1729.4,334.1 1731.0,334.4 1732.5,339.5 1734.0,327.7 1735.5,321.6 1737.1,338.5 1738.6,340.3 1740.1,337.3 1741.6,334.1 1743.2,344.4 1744.7,333.5 1746.2,329.0 1747.8,318.8 1749.3,333.8 1750.8,334.1 1752.3,329.5 1753.9,319.2 1755.4,326.3 1756.9,334.2 1758.5,350.8 1760.0,338.2 1761.5,309.3 1763.0,334.9 1764.6,342.5 1766.1,332.6 1767.6,331.3 1769.2,331.5 1770.7,342.2 1772.2,344.4 1773.7,326.4 1775.3,316.4 1776.8,321.8 1778.3,327.7 1779.8,338.3 1781.4,340.0 1782.9,348.7 1784.4,341.5 1786.0,341.0"/>
<polyline stroke="#00ff00" points="1787.5,329.5 1789.0,333.5 1790.5,327.3 1792.1,330.2 1793.6,342.7 1795.1,344.4 1796.7,342.7 1798.2,334.0 1799.7,328.4 1801.2,338.9 1802.8,334.2 1804.3,327.0 1805.8,346.6 1807.4,321.5 1808.9,297.2 1810.4,312.8 1811.9,339.1 1813.5,324.2 1815.0,332.4 1816.5,326.2 1818.1,318.3 1819.6,310.7 1821.1,316.3 1822.6,333.5 1824.2,336.6 1825.7,315.6 1827.2,318.4 1828.7,328.5 1830.3,327.8 1831.8,316.4 1833.3,340.2 1834.9,320.8 1836.4,311.4 1837.9,312.8 1839.4,326.8 1841.0,320.7 1842.5,298.3 1844.0,325.6 1845.6,318.0 1847.1,353.0 1848.6,297.5 1850.1,308.5 1851.7,339.7 1853.2,327.9 1854.7,324.2 1856.3,349.4 1857.8,339.3 1859.3,320.7 1860.8,315.6 1862.4,327.6 1863.9,332.4 1865.4,314.1 1867.0,309.3 1868.5,328.2 1870.0,338.2 1871.5,324.2 1873.1,345.9 1874.6,330.0 1876.1,319.6 1877.6,326.8 1879.2,324.1 1880.7,336.1 1882.2,340.6 1883.8,337.0 1885.3,325.6 1886.8,345.9 1888.3,344.9 1889.9,334.7 1891.4,331.3 1892.9,339.8 1894.5,342.1 1896.0,351.5 1897.5,342.7 1899.0,346.0 1900.6,348.6 1902.1,334.8 1903.6,338.4 1905.2,348.2 1906.7,332.7 1908.2,313.5 1909.7,348.7 1911.3,345.0 1912.8,322.4 1914.3,320.6 1915.9,327.0 1917.4,344.1 1918.9,349.4 1920.4,340.4 1922.0,333.8 1923.5,319.2 1925.0,328.4 1926.5,339.5 1928.1,330.5 1929.6,326.9 1931.1,322.8 1932.7,331.6 1934.2,343.5 1935.7,342.6 1937.2,350.8 1938.8,312.1 1940.3,320.6 1941.8,335.3 1943.4,331.0 1944.9,336.4"/>
<polyline stroke="#00ff00" points="1946.4,323.6 1947.9,320.0 1949.5,339.2 1951.0,336.0 1952.5,334.1 1954.1,341.6 1955.6,323.2 1957.1,308.5 1958.6,317.6 1960.2,317.9 1961.7,333.8 1963.2,319.0 1964.8,312.1 1966.3,317.7 1967.8,327.7 1969.3,307.8 1970.9,336.6 1972.4,333.2 1973.9,328.9 1975.4,322.0 1977.0,320.6 1978.5,333.1 1980.0,327.0 1981.6,317.5 1983.1,318.8 1984.6,310.7 1986.1,335.9 1987.7,333.3 1989.2,329.4 1990.7,325.6 1992.3,328.4 1993.8,331.4 1995.3,332.4 1996.8,314.9 1998.4,324.6 1999.9,322.7 2001.4,320.0 2003.0,306.7 2004.5,314.3 2006.0,328.1 2007.5,323.5 2009.1,319.9 2010.6,325.7 2012.1,332.3 2013.7,335.9 2015.2,310.7 2016.7,331.9 2018.2,293.6 2019.8,301.5 2021.3,318.4 2022.8,304.3 2024.3,344.4 2025.9,333.6 2027.4,348.7 2028.9,312.1 2030.5,328.1 2032.0,335.3 2033.5,341.6 2035.0,343.7 2036.6,327.0 2038.1,339.4 2039.6,347.3 2041.2,344.7 2042.7,322.5 2044.2,335.0 2045.7,348.7 2047.3,346.7 2048.8,333.4 2050.3,331.3 2051.9,351.5 2053.4,347.4 2054.9,338.4 2056.4,328.2 2058.0,329.2 2059.5,317.7 2061.0,307.4 2062.6,330.7 2064.1,341.6 2065.6,324.2 2067.1,328.1 2068.7,328.1 2070.2,315.6 2071.7,331.2 2073.2,342.4 2074.8,350.1 2076.3,317.8 2077.8,321.4 2079.4,345.2 2080.9,335.2 2082.4,315.6 2083.9,319.2 2085.5,319.2 2087.0,319.2"/>
<polyline stroke="#0000ff" points="248.0,437.3 249.5,436.9 251.1,437.1 252.6,437.1 254.1,436.7 255.6,436.6 257.2,436.9 258.7,436.6 260.2,436.7 261.7,437.0 263.3,437.0 264.8,436.5 266.3,436.4 267.8,436.5 269.4,436.8 270.9,436.3 272.4,436.4 274.0,436.3 275.5,436.3 277.0,436.5 278.5,436.3 280.1,436.4 281.6,436.6 283.1,436.5 284.6,436.3 286.2,436.5 287.7,436.4 289.2,436.5 290.8,436.1 292.3,436.2 293.8,436.3 295.3,436.5 296.9,436.2 298.4,436.1 299.9,436.0 301.4,435.9 303.0,435.9 304.5,436.3 306.0,436.2 307.5,436.2 309.1,435.9 310.6,436.0 312.1,435.7 313.7,435.8 315.2,435.6 316.7,435.7 318.2,435.6 319.8,435.5 321.3,435.9 322.8,435.4 324.3,435.8 325.9,435.7 327.4,435.3 328.9,435.5 330.5,435.8 332.0,435.7 333.5,435.4 335.0,435.5 336.6,435.4 338.1,435.1 339.6,435.2 341.1,435.2 342.7,435.1 344.2,435.3 345.7,435.0 347.2,435.2 348.8,434.7 350.3,434.9 351.8,434.6 353.4,434.9 354.9,435.0 356.4,434.8 357.9,434.8 359.5,434.8 361.0,434.5 362.5,434.5 364.0,434.6 365.6,434.6 367.1,434.4 368.6,434.4 370.1,434.3 371.7,434.4 373.2,434.4 374.7,434.1 376.3,434.3 377.8,434.4 379.3,434.1 380.8,434.3 382.4,433.9 383.9,434.2 385.4,433.7 386.9,433.8 388.5,434.0 390.0,433.5 391.5,433.8 393.1,433.9 394.6,433.9 396.1,433.7 397.6,433.4 399.2,433.4 400.7,433.5 402.2,433.1 403.7,433.0 405.3,433.5 406.8,433.3 408.3,433.0 409.8,433.1 411.4,432.9 412.9,433.2 414.4,432.8 416.0,433.0 417.5,432.9 419.0,432.6 420.5,432.5 422.1,432.6 423.6,432.4 425.1,432.5 426.6,432.2 428.2,432.5 429.7,432.2 431.2,431.9 432.8,432.2 434.3,432.2 435.8,432.0 437.3,431.9 438.9,432.0 440.4,432.0 441.9,431.4 443.4,431.6 445.0,431.2 446.5,431.4 448.0,431.2 449.5,431.3 451.1,431.3 452.6,431.4 454.1,430.9 455.7,430.7 457.2,431.2 458.7,431.0 460.2,430.8 461.8,430.4 463.3,430.3 464.8,430.7 466.3,430.4 467.9,430.5 469.4,430.4 470.9,430.3 472.4,430.2 474.0,429.8 475.5,429.7 477.0,429.8 478.6,429.9 480.1,429.8 481.6,429.7 483.1,429.5 484.7,429.4 486.2,429.1 487.7,429.3 489.2,429.2 490.8,429.0 492.3,429.1 493.8,429.2 495.4,429.0 496.9,428.4 498.4,428.3 499.9,428.4 501.5,428.2 503.0,427.8 504.5,428.1 506.0,427.6 507.6,427.7 509.1,427.1 510.6,427.0 512.1,426.7 513.7,427.0 515.2,426.7 516.7,426.8 518.3,426.4 519.8,426.1 521.3,425.9 522.8,425.8 524.4,425.4 525.9,425.2 527.4,425.3 528.9,424.9 530.5,424.8 532.0,424.8 533.5,424.3 535.1,424.2 536.6,423.9 538.1,423.7 539.6,423.6 541.2,422.9 542.7,422.7 544.2,422.2 545.7,422.2 547.3,421.6 548.8,421.7 550.3,421.2 551.8,421.0 553.4,420.6 554.9,420.5 556.4,556.5 557.9,417.6 559.4,416.9 561.0,415.6 562.5,414.0 564.1,412.9 565.6,412.1 567.2,410.3 568.7,408.3 570.3,404.6 571.8,401.5 573.4,397.6 575.0,396.7 576.5,396.0 578.1,395.2 579.6,393.8 581.2,392.6 582.7,390.7 584.3,387.6 585.8,383.6 587.4,382.0 588.9,396.6 590.3,382.1 592.4,378.5 593.6,378.0 595.1,381.4 596.7,378.9 598.2,380.2 599.7,381.4 601.2,367.5 602.8,371.3 604.3,375.4 605.8,373.9 607.3,371.3 608.9,387.1 610.4,371.6 611.9,378.6 613.5,366.9 615.0,362.8 616.5,372.2 618.0,375.2 619.6,365.2 621.1,357.6 622.6,367.2 624.1,371.0 625.7,362.8 627.2,355.2 628.7,363.2 630.2,355.2 631.8,373.3 633.3,369.0 634.8,366.9 636.4,367.9 637.9,370.2 639.4,373.3 640.9,359.0 642.5,366.6 644.0,367.2 645.5,362.3 647.0,378.6 648.6,373.5 650.1,366.6 651.6,371.0 653.2,370.9 654.7,366.3 656.2,363.3 657.7,367.0 659.3,378.1 660.8,382.4 662.3,363.3 663.8,368.7 665.4,364.2 666.9,371.9 668.4,367.0 670.0,359.5 671.5,368.4 673.0,369.1 674.5,361.4 676.1,364.2 677.6,374.1 679.1,373.9 680.6,381.7 682.2,384.2 683.7,389.9 685.2,362.3 686.7,368.1 688.3,367.0 689.8,372.9 691.3,368.1 692.9,365.3 694.4,359.5 695.9,373.3 697.4,364.8 699.0,358.2 700.5,360.8 702.0,365.3 703.5,354.3 705.1,359.4 706.6,366.3 708.1,372.0 709.7,370.4 711.2,367.1 712.7,366.6 714.2,375.2 715.8,370.3 717.3,364.3 718.8,354.7 720.3,373.3 721.9,363.7 723.4,355.2 724.9,357.7 726.5,366.1 728.0,356.2 729.5,364.0 731.0,373.3 732.6,361.2 734.1,361.8 735.6,365.3 737.1,359.5 738.7,362.2 740.2,363.1 741.7,367.2 743.2,359.0 744.8,364.1 746.3,367.4 747.8,370.5 749.4,357.1 750.9,357.6 752.4,364.3 753.9,374.3 755.5,367.0 757.0,359.7 758.5,363.4 760.0,366.5 761.6,359.5 763.1,356.2 764.6,381.4 766.2,378.1 767.7,377.6 769.2,371.1 770.7,361.1 772.3,364.6 773.8,371.8 775.3,368.0 776.8,375.7 778.4,369.5 779.9,361.9 781.4,368.8 782.9,370.6 784.5,370.8 786.0,376.4 787.5,358.3 789.1,365.5 790.6,368.8 792.1,371.7 793.6,368.4 795.2,365.4 796.7,376.5 798.2,380.7 799.7,360.8 801.3,366.6 802.8,369.3 804.3,357.6 805.9,363.2 807.4,364.6 808.9,361.5 810.4,360.4 812.0,372.9 813.5,369.0 815.0,361.9 816.5,360.4 818.1,372.2 819.6,364.3 821.1,364.8 822.7,356.2 824.2,367.2 825.7,376.0 827.2,379.3 828.8,362.3 830.3,360.4 831.8,380.7 833.3,359.7 834.9,362.2 836.4,365.9 837.9,367.7 839.4,370.0 841.0,372.9 842.5,361.1 844.0,375.3 845.6,376.1 847.1,382.3 848.6,387.8 850.1,373.9 851.7,366.8 853.2,368.2 854.7,376.2 856.2,382.1 857.8,363.3 859.3,371.4 860.8,368.1 862.4,377.3 863.9,376.4 865.4,379.2 866.9,384.3 868.5,371.8 870.0,378.6 871.5,380.0 873.0,370.4 874.6,394.2 876.1,390.9 877.6,384.1 879.1,390.1 880.7,392.8 882.2,366.8 883.7,374.1 885.3,372.1 886.8,380.7 888.3,376.7 889.8,376.7 891.4,369.7 892.9,394.9 894.4,382.1 895.9,366.1 897.5,370.9 899.0,382.8 900.5,379.4 902.1,369.2 903.6,383.5 905.1,355.2 906.6,371.0 908.2,372.2 909.7,368.2 911.2,360.4 912.7,368.4 914.3,377.1 915.8,366.4 917.3,363.2 918.9,361.1 920.4,372.3 921.9,360.0 923.4,355.2 925.0,368.2 926.5,369.7 928.0,385.0 929.5,370.5 931.1,365.8 932.6,359.7 934.1,362.6 935.6,372.9 937.2,370.8 938.7,364.9 940.2,354.3 941.8,359.3 943.3,370.9 944.8,367.6 946.3,362.6 947.9,372.9 949.4,366.4 950.9,362.8 952.4,363.8 954.0,361.1 955.5,367.9 957.0,360.5 958.6,358.0 960.1,354.7 961.6,373.2 963.1,380.0 964.7,370.4 966.2,354.3 967.7,360.3 969.2,361.2 970.8,369.2 972.3,360.6 973.8,358.3 975.3,382.1 976.9,373.6 978.4,369.5 979.9,359.7 981.5,366.4 983.0,386.4 984.5,383.3 986.0,372.0 987.6,354.0 989.1,370.5 990.6,383.5 992.1,369.2 993.7,365.4 995.2,391.4 996.7,377.4 998.3,367.3 999.8,372.5 1001.3,361.9 1002.8,365.6 1004.4,377.1 1005.9,371.0 1007.4,362.0 1008.9,359.7 1010.5,366.7 1012.0,374.3 1013.5,365.1 1015.1,359.7 1016.6,365.5 1018.1,365.5 1019.6,370.0 1021.2,368.8 1022.7,366.9 1024.2,363.9 1025.7,359.6 1027.3,357.6 1028.8,371.5 1030.3,361.6 1031.8,360.1 1033.4,362.6 1034.9,359.7 1036.4,352.2 1038.0,362.4 1039.5,366.2 1041.0,372.9 1042.5,361.1 1044.1,362.1 1045.6,361.0 1047.1,364.3 1048.6,363.6 1050.2,354.3 1051.7,354.7 1053.2,362.4 1054.8,365.1 1056.3,368.2 1057.8,375.0 1059.3,358.3 1060.9,363.3 1062.4,365.8 1063.9,380.0 1065.4,375.8 1067.0,372.4 1068.5,363.7 1070.0,359.0 1071.6,365.8 1073.1,369.3 1074.6,361.8 1076.1,370.0 1077.7,354.0 1079.2,356.5 1080.7,356.9 1082.2,363.6 1083.8,365.4 1085.3,364.3 1086.8,363.8 1088.3,356.2 1089.9,365.4 1091.4,356.3 1092.9,351.9 1094.5,383.5 1096.0,370.7 1097.5,369.9 1099.0,370.2 1100.6,385.0 1102.1,369.5 1103.6,370.0 1105.1,359.0 1106.7,377.9 1108.2,369.3 1109.7,363.3 1111.3,361.9 1112.8,370.7 1114.3,380.7 1115.8,368.8 1117.4,364.5 1118.9,371.6 1120.4,372.2 1121.9,356.2 1123.5,364.9 1125.0,368.4 1126.5,364.0 1128.0,361.1 1129.6,367.0 1131.1,371.5 1132.6,367.3 1134.2,366.1 1135.7,359.7 1137.2,364.7 1138.7,371.2 1140.3,360.4 1141.8,364.9 1143.3,373.2 1144.8,390.9 1146.4,384.0 1147.9,378.2 1149.4,363.3 1151.0,372.5 1152.5,379.3 1154.0,372.3 1155.5,371.9 1157.1,364.9 1158.6,363.3 1160.1,375.0 1161.6,375.8 1163.2,372.1 1164.7,361.1 1166.2,364.7 1167.8,355.2 1169.3,360.5 1170.8,382.6 1172.3,382.7 1173.9,370.5 1175.4,359.0 1176.9,382.6 1178.4,416.2 1180.0,404.6 1181.5,390.1 1183.0,360.4 1184.5,392.1 1186.1,380.9 1187.6,374.6 1189.1,384.9 1190.7,387.8 1192.2,365.4 1193.7,367.1 1195.2,368.6 1196.8,369.6 1198.3,368.6 1199.8,365.4 1201.3,368.7 1202.9,362.6 1204.4,358.3 1205.9,373.6 1207.5,372.2 1209.0,372.6 1210.5,365.8 1212.0,363.5 1213.6,361.9 1215.1,364.3 1216.6,360.4 1218.1,363.1 1219.7,375.1 1221.2,380.0 1222.7,377.4 1224.2,366.6 1225.8,363.3 1227.3,364.9 1228.8,370.9 1230.4,371.1 1231.9,362.6 1233.4,365.9 1234.9,375.0 1236.5,371.6 1238.0,367.6 1239.5,371.6 1241.0,377.1 1242.6,365.4 1244.1,373.6 1245.6,384.2 1247.2,380.6 1248.7,377.5 1250.2,392.1 1251.7,384.4 1253.3,371.5 1254.8,375.8 1256.3,377.9 1257.8,371.6 1259.4,370.2 1260.9,364.7 1262.4,366.8 1264.0,373.2 1265.5,376.2 1267.0,384.3 1268.5,374.4 1270.1,374.6 1271.6,365.4 1273.1,373.5 1274.6,392.1 1276.2,393.9 1277.7,402.0 1279.2,353.3 1280.7,371.1 1282.3,367.3 1283.8,358.3 1285.3,349.8 1286.9,354.9 1288.4,372.9 1289.9,360.1 1291.4,354.7 1293.0,368.4 1294.5,380.0 1296.0,376.0 1297.5,370.3 1299.1,361.4 1300.6,355.5 1302.1,367.5 1303.7,372.9 1305.2,365.5 1306.7,361.9 1308.2,363.5 1309.8,366.6 1311.3,363.9 1312.8,362.6 1314.3,367.2 1315.9,372.0 1317.4,376.2 1318.9,377.9 1320.5,381.1 1322.0,376.6 1323.5,374.7 1325.0,420.5 1326.6,408.0 1328.1,394.3 1329.6,382.3 1331.1,366.1 1332.7,369.4 1334.2,376.4 1335.7,366.4 1337.2,374.3 1338.8,369.7 1340.3,363.4 1341.8,357.6 1343.4,374.4 1344.9,409.8 1346.4,391.3 1347.9,359.7 1349.5,362.3 1351.0,363.5 1352.5,367.9 1354.0,363.9 1355.6,354.7 1357.1,357.2 1358.6,364.4 1360.2,363.0 1361.7,357.6 1363.2,375.0 1364.7,370.9 1366.3,369.5 1367.8,367.7 1369.3,363.4 1370.8,358.3 1372.4,367.9 1373.9,358.5 1375.4,356.7 1376.9,358.1 1378.5,351.2 1380.0,361.7 1381.5,385.0 1383.1,370.3 1384.6,362.3 1386.1,353.0 1387.6,349.1 1389.2,362.3 1390.7,372.9 1392.2,368.8 1393.7,356.5 1395.3,350.5 1396.8,357.8 1398.3,357.3 1399.9,350.5 1401.4,360.1 1402.9,354.8 1404.4,349.5 1406.0,344.0 1407.5,341.9 1409.0,337.0 1410.5,353.7 1412.1,342.7 1413.6,346.0 1415.1,353.6 1416.7,356.3 1418.2,360.8 1419.7,357.2 1421.2,353.3 1422.8,358.4 1424.3,367.2 1425.8,361.5 1427.3,358.3 1428.9,360.2 1430.4,359.3 1431.9,363.5 1433.4,356.6 1435.0,354.0 1436.5,368.6 1438.0,364.2 1439.6,359.8 1441.1,357.4 1442.6,351.8 1444.1,348.4 1445.7,360.1 1447.2,356.0 1448.7,352.4 1450.2,349.4 1451.8,348.4 1453.3,345.5 1454.8,350.8 1456.4,354.8 1457.9,363.6 1459.4,360.7 1460.9,349.8 1462.5,356.4 1464.0,357.5 1465.5,355.4 1467.0,349.1 1468.6,367.9 1470.1,363.5 1471.6,361.6 1473.1,357.4 1474.7,357.8 1476.2,358.4 1477.7,351.9 1479.3,355.8 1480.8,362.9 1482.3,361.8 1483.8,356.2 1485.4,351.2 1486.9,355.5 1488.4,357.1 1489.9,364.3 1491.5,361.9 1493.0,360.0 1494.5,358.3 1496.1,359.2 1497.6,364.5 1499.1,364.6 1500.6,370.7 1502.2,376.7 1503.7,372.4 1505.2,351.9 1506.7,354.5 1508.3,357.3 1509.8,366.5 1511.3,362.8 1512.9,360.8 1514.4,354.7 1515.9,356.5 1517.4,356.7 1519.0,358.8 1520.5,364.8 1522.0,366.5 1523.5,363.3 1525.1,352.8 1526.6,349.8 1528.1,354.1 1529.6,363.9 1531.2,363.1 1532.7,358.3 1534.2,375.0 1535.8,357.8 1537.3,354.0 1538.8,358.0 1540.3,365.4 1541.9,369.2 1543.4,375.0 1544.9,365.4 1546.4,369.3 1548.0,374.4 1549.5,380.7 1551.0,367.4 1552.6,357.1 1554.1,352.6 1555.6,380.7 1557.1,378.9 1558.7,363.2 1560.2,351.2 1561.7,359.3 1563.2,378.9 1564.8,373.8 1566.3,375.2 1567.8,397.8 1569.3,373.3 1570.9,353.3 1572.4,358.6 1573.9,369.3 1575.5,369.7 1577.0,355.0 1578.5,351.9 1580.0,380.7 1581.6,375.6 1583.1,359.0 1584.6,349.1 1586.1,353.3 1587.7,354.7 1589.2,365.0 1590.7,369.3 1592.3,361.9 1593.8,362.7 1595.3,357.6 1596.8,363.8 1598.4,363.4 1599.9,364.9 1601.4,372.4 1602.9,375.7 1604.5,361.8 1606.0,351.9 1607.5,359.8 1609.1,360.0 1610.6,356.2 1612.1,354.7 1613.6,367.9 1615.2,361.7 1616.7,356.1 1618.2,352.6 1619.7,367.8 1621.3,392.1 1622.8,383.0 1624.3,360.3 1625.8,361.9 1627.4,368.6 1628.9,354.7 1630.4,356.4 1632.0,364.8 1633.5,363.2 1635.0,363.9 1636.5,360.6 1638.1,351.2 1639.6,363.6 1641.1,382.1 1642.6,375.8 1644.2,371.5 1645.7,352.6 1647.2,359.3 1648.8,366.5 1650.3,362.5 1651.8,353.2 1653.3,358.1 1654.9,349.8 1656.4,376.4 1657.9,366.1 1659.4,361.4 1661.0,369.1 1662.5,370.0 1664.0,366.7 1665.6,348.4 1667.1,352.3 1668.6,379.5 1670.1,394.2 1671.7,383.8 1673.2,365.1 1674.7,376.4 1676.2,377.9 1677.8,345.5 1679.3,374.3 1680.8,368.7 1682.3,359.2 1683.9,361.6 1685.4,392.1 1686.9,378.9 1688.5,344.1 1690.0,408.4 1691.5,384.4 1693.0,385.2 1694.6,367.6 1696.1,354.0 1697.6,373.6 1699.1,366.7 1700.7,355.9 1702.2,353.3 1703.7,358.0 1705.3,365.8 1706.8,364.7 1708.3,372.2 1709.8,362.6 1711.4,353.3 1712.9,358.7 1714.4,366.5 1715.9,365.8 1717.5,358.0 1719.0,364.3 1720.5,379.3 1722.0,349.8 1723.6,354.5 1725.1,364.2 1726.6,366.4 1728.2,359.6 1729.7,342.0 1731.2,355.0 1732.7,370.0 1734.3,362.5 1735.8,352.6 1737.3,367.6 1738.8,360.4 1740.4,367.2 1741.9,359.8 1743.4,357.5 1745.0,351.6 1746.5,344.1 1748.0,356.4 1749.5,368.6 1751.1,354.0 1752.6,357.3 1754.1,373.7 1755.6,375.2 1757.2,362.7 1758.7,361.1 1760.2,384.3 1761.8,380.0 1763.3,374.9 1764.8,374.4 1766.3,364.4 1767.9,361.1 1769.4,358.3 1770.9,369.0 1772.4,377.4 1774.0,369.4 1775.5,356.2 1777.0,358.2 1778.5,365.8 1780.1,370.7 1781.6,356.2 1783.1,363.0 1784.7,356.0 1786.2,357.6"/>
<polyline stroke="#0000ff" points="1787.7,361.0 1789.2,364.0 1790.8,363.2 1792.3,361.1 1793.8,385.2 1795.3,374.4 1796.9,372.4 1798.4,380.7 1799.9,358.3 1801.5,363.5 1803.0,361.9 1804.5,368.6 1806.0,361.2 1807.6,354.0 1809.1,360.2 1810.6,365.0 1812.1,365.3 1813.7,370.6 1815.2,374.3 1816.7,346.9 1818.2,358.0 1819.8,365.1 1821.3,367.4 1822.8,356.2 1824.4,379.3 1825.9,375.4 1827.4,366.2 1828.9,364.4 1830.5,359.9 1832.0,353.7 1833.5,349.8 1835.0,353.3 1836.6,367.5 1838.1,372.9 1839.6,350.5 1841.2,362.5 1842.7,367.3 1844.2,360.5 1845.7,359.0 1847.3,363.6 1848.8,363.3 1850.3,361.3 1851.8,359.2 1853.4,354.7 1854.9,390.4 1856.4,384.4 1858.0,359.7 1859.5,361.7 1861.0,346.2 1862.5,354.3 1864.1,353.5 1865.6,363.8 1867.1,377.9 1868.6,367.9 1870.2,355.5 1871.7,363.6 1873.2,367.9 1874.7,356.9 1876.3,377.1 1877.8,368.1 1879.3,360.9 1880.9,360.4 1882.4,383.0 1883.9,389.2 1885.4,352.6 1887.0,362.9 1888.5,358.9 1890.0,371.6 1891.5,376.4 1893.1,372.3 1894.6,356.2 1896.1,358.7 1897.7,362.1 1899.2,364.5 1900.7,375.0 1902.2,363.7 1903.8,357.6 1905.3,361.2 1906.8,365.8 1908.3,365.0 1909.9,363.4 1911.4,365.7 1912.9,370.7 1914.4,355.5 1916.0,358.9 1917.5,372.2 1919.0,367.4 1920.6,360.6 1922.1,357.7 1923.6,356.2 1925.1,366.5 1926.7,365.8 1928.2,366.4 1929.7,363.0 1931.2,358.1 1932.8,361.3 1934.3,358.4 1935.8,356.2 1937.4,367.6 1938.9,372.2 1940.4,375.9 1941.9,379.3 1943.5,374.0 1945.0,362.7"/>
<polyline stroke="#0000ff" points="1946.5,365.4 1948.0,367.9 1949.6,362.9 1951.1,360.5 1952.6,357.7 1954.2,351.9 1955.7,359.3 1957.2,352.1 1958.7,346.6 1960.3,350.5 1961.8,360.0 1963.3,365.6 1964.8,373.9 1966.4,351.2 1967.9,356.9 1969.4,371.8 1970.9,375.0 1972.5,350.5 1974.0,353.9 1975.5,361.2 1977.1,358.9 1978.6,355.5 1980.1,358.1 1981.6,361.5 1983.2,358.2 1984.7,354.7 1986.2,356.8 1987.7,361.8 1989.3,361.6 1990.8,357.6 1992.3,376.9 1993.9,373.1 1995.4,366.6 1996.9,352.6 1998.4,359.3 2000.0,364.8 2001.5,359.0 2003.0,363.2 2004.5,359.7 2006.1,358.2 2007.6,357.1 2009.1,355.5 2010.7,361.2 2012.2,363.7 2013.7,361.3 2015.2,360.7 2016.8,360.4 2018.3,367.5 2019.8,361.6 2021.3,359.7 2022.9,357.6 2024.4,361.7 2025.9,365.1 2027.4,359.1 2029.0,357.6 2030.5,379.0 2032.0,368.3 2033.6,362.9 2035.1,355.6 2036.6,351.9 2038.1,366.5 2039.7,360.8 2041.2,356.6 2042.7,354.7 2044.2,363.0 2045.8,370.0 2047.3,367.4 2048.8,359.2 2050.4,356.2 2051.9,359.6 2053.4,360.4 2054.9,363.6 2056.5,362.3 2058.0,354.0 2059.5,373.6 2061.0,361.1 2062.6,382.9 2064.1,404.2 2065.6,360.1 2067.1,364.2 2068.7,369.3 2070.2,361.4 2071.7,354.7 2073.3,364.3 2074.8,359.0 2076.3,358.4 2077.8,350.5 2079.4,354.2 2080.9,360.0 2082.4,362.2 2083.9,358.3 2085.5,358.8 2087.0,358.8"/>
<polyline stroke="#000000" points="250.1,667.4 251.6,664.3 253.1,662.6 254.7,661.3 256.2,660.3 257.7,659.3 259.2,658.3 260.8,658.1 262.3,658.1 263.8,658.3 265.3,658.1 266.9,658.3 268.4,658.2 269.9,658.2 271.4,658.3 273.0,658.2 274.5,658.5 276.0,658.9 277.5,659.5 279.1,659.9 280.6,660.3 282.1,660.7 283.6,661.1 285.2,661.4 286.7,661.7 288.2,662.2 289.8,662.3 291.3,662.8 292.8,663.1 294.3,663.3 295.9,664.1 297.4,665.1 298.9,666.2 300.4,667.0 302.0,668.1 303.5,669.2 305.0,670.9 306.5,672.2 308.1,674.2 309.6,676.5 311.1,678.7 312.6,680.7 314.2,679.2 315.7,678.1 317.2,676.9 318.8,676.3 320.3,675.6 321.8,675.4 323.3,675.7 324.9,676.2 326.4,676.7 327.9,677.0 329.4,677.6 331.0,678.2 332.5,679.1 334.0,679.6 335.5,680.2 337.1,681.5 338.6,682.8 340.1,684.1 341.6,685.3 343.2,687.4 344.7,689.6 346.2,691.9 347.7,695.0 349.3,695.0 350.8,693.5 352.3,692.4 353.9,691.9 355.4,691.6 356.9,692.1 358.4,692.7 360.0,693.2 361.5,694.2 363.0,696.6 364.5,701.5 366.1,709.3 367.6,701.1 369.1,698.1 370.6,697.7 372.2,697.2 373.7,696.7 375.2,696.9 376.7,697.2 378.3,697.7 379.8,698.3 381.3,698.8 382.8,700.4 384.4,701.7 385.9,703.4 387.4,706.6 389.0,710.2 390.5,713.2 392.0,709.5 393.5,707.6 395.1,707.3 396.6,706.9 398.1,706.5 399.6,707.4 401.2,707.9 402.7,708.7 404.2,709.5 405.7,712.3 407.3,714.9 408.8,719.1 410.3,722.0 411.8,719.2 413.4,718.2 414.9,717.5 416.4,717.7 418.0,717.7 419.5,718.8 421.0,720.4 422.5,722.0 424.1,724.2 425.6,727.3 427.1,737.0 428.6,731.6 430.2,729.8 431.7,729.8 433.2,729.7 434.7,731.5 436.3,733.2 437.8,735.6 439.3,739.6 440.8,743.9 442.4,740.7 443.9,739.3 445.4,740.5 446.9,741.6 448.5,744.3 450.0,748.4 451.5,754.3 453.1,750.6 454.6,749.7 456.1,751.5 457.6,754.3 459.2,756.9 460.7,760.1 462.2,759.1 463.7,758.6 465.3,761.1 466.8,763.0 468.3,767.5 469.8,768.4 471.4,768.8 472.9,773.6 474.4,776.1 475.9,774.9 477.5,775.9 479.0,778.7 480.5,780.2 482.1,780.8 483.6,782.7 485.1,786.3 486.6,788.2 488.2,790.0 489.7,791.2 491.2,793.9 492.7,798.1 494.3,793.9 495.8,794.0 497.3,794.1 498.8,797.7 500.4,799.0 501.9,799.3 503.4,795.4 504.9,794.9 506.5,795.3 508.0,797.0 509.5,800.0 511.0,802.5 512.6,797.5 514.1,795.3 515.6,795.1 517.2,794.4 518.7,795.9 520.2,794.1 521.7,795.3 523.3,794.0 524.8,794.7 526.3,795.4 527.8,794.2 529.4,793.7 530.9,795.0 532.4,795.1 533.9,794.4 535.5,794.3 537.0,793.3 538.5,791.6 540.0,792.1 541.6,794.0 543.1,794.4 544.6,793.7 546.2,794.0 547.7,793.9 549.2,793.0 550.7,793.1 552.3,794.1 554.0,793.5 555.6,871.5 557.4,822.0 559.4,752.0 561.4,684.0 563.1,652.0 564.9,604.8 566.8,548.0 568.5,505.0 569.9,477.0 571.3,462.0 572.8,459.0 574.2,458.6 575.6,457.5 577.1,458.8 578.6,462.9 580.2,456.1 581.7,463.6 583.2,467.2 584.8,439.1 586.3,429.1 587.8,437.2 589.3,455.2 590.9,474.3 592.4,434.5 593.9,456.3 595.5,462.9 597.0,430.5 598.5,454.0 600.0,457.9 601.6,445.0 603.1,437.0 604.6,434.8 606.2,446.4 607.7,452.5 609.2,440.7 610.7,428.4 612.3,461.2 613.8,455.2 615.3,443.3 616.9,448.2 618.4,451.8 619.9,435.5 621.4,449.1 623.0,464.6 624.5,462.1 626.0,451.9 627.6,475.7 629.1,463.7 630.6,449.7 632.1,465.8 633.7,481.1 635.2,463.2 636.7,469.4 638.2,477.9 639.8,432.7 641.3,439.9 642.8,470.0 644.4,462.4 645.9,453.1 647.4,437.6 648.9,484.2 650.5,478.8 652.0,465.4 653.5,464.9 655.1,476.6 656.6,478.5 658.1,465.5 659.6,445.5 661.2,449.6 662.7,464.5 664.2,479.4 665.8,493.0 667.3,434.5 668.8,485.9 670.3,465.2 671.9,458.3 673.4,491.6 674.9,479.0 676.5,470.3 678.0,496.7 679.5,481.1 681.0,478.2 682.6,451.7 684.1,441.2 685.6,471.9 687.2,483.5 688.7,457.3 690.2,456.5 691.7,497.0 693.3,489.3 694.8,475.6 696.3,468.2 697.8,466.4 699.4,479.7 700.9,479.4 702.4,481.1 704.0,488.2 705.5,467.2 707.0,467.0 708.5,469.8 710.1,477.8 711.6,474.0 713.1,457.5 714.7,478.7 716.2,483.1 717.7,492.0 719.2,464.7 720.8,462.8 722.3,446.5 723.8,461.3 725.4,488.2 726.9,487.8 728.4,472.5 729.9,475.8 731.5,498.3 733.0,508.1 734.5,490.9 736.1,461.5 737.6,504.1 739.1,478.5 740.6,480.9 742.2,457.5 743.7,515.1 745.2,475.1 746.8,473.6 748.3,454.7 749.8,495.2 751.3,512.2 752.9,474.6 754.4,474.6 755.9,494.7 757.5,453.3 759.0,510.1 760.5,475.1 762.0,504.1 763.6,494.8 765.1,464.4 766.6,494.0 768.1,496.7 769.7,486.3 771.2,479.0 772.7,464.4 774.3,480.1 775.8,488.2 777.3,478.4 778.8,458.7 780.4,470.8 781.9,490.0 783.4,498.4 785.0,493.1 786.5,505.5 788.0,515.1 789.5,486.7 791.1,478.6 792.6,512.8 794.1,539.2 795.7,530.5 797.2,507.3 798.7,528.3 800.2,508.4 801.8,494.5 803.3,540.4 804.8,504.2 806.4,473.5 807.9,488.6 809.4,509.8 810.9,527.1 812.5,496.9 814.0,457.5 815.5,492.0 817.1,489.4 818.6,473.2 820.1,480.6 821.6,487.3 823.2,464.0 824.7,451.4 826.2,475.0 827.7,496.7 829.3,483.4 830.8,484.6 832.3,519.9 833.9,538.2 835.4,511.0 836.9,483.4 838.4,503.1 840.0,520.0 841.5,496.4 843.0,494.8 844.6,491.4 846.1,510.4 847.6,536.8 849.1,470.3 850.7,470.3 852.2,520.5 853.7,476.7 855.3,496.3 856.8,487.0 858.3,506.4 859.8,523.6 861.4,551.0 862.9,484.3 864.4,512.2 866.0,534.0 867.5,502.3 869.0,508.7 870.5,514.9 872.1,481.4 873.6,498.7 875.1,523.0 876.7,537.1 878.2,498.8 879.7,518.9 881.2,519.7 882.8,500.2 884.3,472.9 885.8,519.8 887.3,555.3 888.9,507.8 890.4,501.3 891.9,552.4 893.5,545.0 895.0,536.6 896.5,509.0 898.0,565.2 899.6,533.7 901.1,498.1 902.6,489.1 904.2,538.9 905.7,492.4 907.2,507.7 908.7,527.9 910.3,539.9 911.8,546.1 913.3,515.1 914.9,536.6 916.4,538.9 917.9,511.8 919.4,490.2 921.0,562.1 922.5,579.2 924.0,538.4 925.6,495.2 927.1,547.5 928.6,542.0 930.1,521.5 931.7,530.6 933.2,539.7 934.7,522.7 936.3,488.1 937.8,510.5 939.3,527.1 940.8,520.5 942.4,506.2 943.9,546.1 945.4,526.4 946.9,512.2 948.5,502.0 950.0,487.4 951.5,532.8 953.1,543.8 954.6,527.9 956.1,543.5 957.6,536.9 959.2,526.1 960.7,512.8 962.2,505.2 963.8,545.3 965.3,507.7 966.8,489.1 968.3,511.5 969.9,537.9 971.4,495.2 972.9,521.4 974.5,532.5 976.0,447.3 977.5,508.4 979.0,482.4 980.6,512.5 982.1,523.5 983.6,499.5 985.2,541.1 986.7,530.7 988.2,511.6 989.7,524.5 991.3,524.2 992.8,527.1 994.3,472.2 995.9,456.8 997.4,523.2 998.9,517.7 1000.4,497.4 1002.0,520.5 1003.5,500.5 1005.0,493.4 1006.5,500.0 1008.1,522.7 1009.6,531.1 1011.1,511.3 1012.7,506.2 1014.2,522.0 1015.7,541.3 1017.2,556.4 1018.8,496.7 1020.3,470.3 1021.8,486.5 1023.4,535.9 1024.9,541.1 1026.4,503.8 1027.9,535.3 1029.5,573.1 1031.0,490.2 1032.5,525.4 1034.1,538.9 1035.6,526.5 1037.1,534.3 1038.6,542.8 1040.2,559.3 1041.7,523.7 1043.2,509.0 1044.8,561.0 1046.3,550.0 1047.8,539.3 1049.3,527.6 1050.9,509.7 1052.4,526.9 1053.9,495.4 1055.5,488.1 1057.0,472.9 1058.5,504.7 1060.0,550.3 1061.6,495.9 1063.1,540.4 1064.6,528.1 1066.2,494.5 1067.7,556.5 1069.2,578.0 1070.7,516.3 1072.3,493.4 1073.8,545.2 1075.3,557.0 1076.8,515.1 1078.4,531.1 1079.9,527.0 1081.4,510.0 1083.0,504.2 1084.5,529.3 1086.0,543.6 1087.5,529.5 1089.1,512.3 1090.6,536.5 1092.1,530.4 1093.7,522.1 1095.2,520.1 1096.7,549.2 1098.2,493.8 1099.8,481.5 1101.3,462.2 1102.8,542.2 1104.4,506.6 1105.9,538.3 1107.4,546.3 1108.9,522.1 1110.5,503.3 1112.0,525.4 1113.5,501.4 1115.1,494.1 1116.6,553.2 1118.1,534.6 1119.6,514.5 1121.2,503.2 1122.7,498.5 1124.2,536.1 1125.8,517.4 1127.3,507.3 1128.8,571.4 1130.3,559.2 1131.9,525.8 1133.4,540.6 1134.9,566.3 1136.4,572.1 1138.0,523.7 1139.5,525.9 1141.0,545.5 1142.6,546.8 1144.1,476.3 1145.6,523.2 1147.1,550.3 1148.7,528.6 1150.2,532.2 1151.7,558.8 1153.3,551.1 1154.8,547.1 1156.3,563.9 1157.8,573.8 1159.4,505.2 1160.9,528.1 1162.4,527.1 1164.0,504.2 1165.5,491.2 1167.0,575.2 1168.5,565.9 1170.1,552.1 1171.6,563.8 1173.1,543.3 1174.7,577.3 1176.2,592.0 1177.7,496.9 1179.2,523.9 1180.8,512.1 1182.3,526.9 1183.8,527.8 1185.4,516.5 1186.9,549.6 1188.4,565.2 1189.9,527.2 1191.5,560.3 1193.0,507.3 1194.5,580.9 1196.0,555.7 1197.6,518.0 1199.1,530.1 1200.6,568.1 1202.2,503.3 1203.7,514.2 1205.2,560.3 1206.7,570.2 1208.3,515.8 1209.8,519.0 1211.3,488.1 1212.9,551.4 1214.4,565.7 1215.9,531.5 1217.4,572.4 1219.0,543.2 1220.5,510.4 1222.0,539.6 1223.6,549.8 1225.1,491.2 1226.6,575.2 1228.1,615.0 1229.7,554.9 1231.2,556.5 1232.7,555.9 1234.3,562.0 1235.8,556.6 1237.3,573.8 1238.8,517.3 1240.4,546.8 1241.9,531.4 1243.4,516.1 1245.0,529.8 1246.5,539.2 1248.0,535.3 1249.5,521.5 1251.1,547.2 1252.6,543.1 1254.1,535.7 1255.6,548.9 1257.2,531.5 1258.7,561.1 1260.2,569.2 1261.8,515.4 1263.3,563.8 1264.8,543.3 1266.3,520.4 1267.9,531.4 1269.4,541.3 1270.9,523.3 1272.5,510.4 1274.0,552.0 1275.5,556.4 1277.0,537.7 1278.6,522.7 1280.1,561.0 1281.6,539.0 1283.2,524.4 1284.7,534.9 1286.2,552.2 1287.7,523.4 1289.3,516.5 1290.8,552.2 1292.3,562.3 1293.9,544.5 1295.4,542.9 1296.9,569.1 1298.4,583.0 1300.0,533.4 1301.5,512.3 1303.0,525.7 1304.6,553.2 1306.1,518.7 1307.6,519.5 1309.1,525.9 1310.7,524.0 1312.2,501.3 1313.7,529.8 1315.2,522.1 1316.8,522.9 1318.3,544.3 1319.8,532.2 1321.4,516.5 1322.9,526.3 1324.4,526.3 1325.9,517.7 1327.5,535.6 1329.0,529.5 1330.5,552.2 1332.1,516.0 1333.6,500.2 1335.1,511.4 1336.6,527.6 1338.2,541.8 1339.7,520.8 1341.2,525.9 1342.8,541.3 1344.3,545.1 1345.8,517.3 1347.3,529.0 1348.9,524.7 1350.4,535.4 1351.9,522.2 1353.5,530.3 1355.0,521.5 1356.5,578.0 1358.0,555.8 1359.6,532.2 1361.1,557.8 1362.6,571.4 1364.2,515.7 1365.7,504.5 1367.2,514.0 1368.7,522.8 1370.3,510.0 1371.8,502.3 1373.3,563.1 1374.9,550.1 1376.4,535.3 1377.9,570.2 1379.4,555.4 1381.0,548.0 1382.5,541.4 1384.0,555.3 1385.5,531.3 1387.1,524.2 1388.6,509.0 1390.1,606.2 1391.7,556.5 1393.2,537.2 1394.7,546.1 1396.2,531.3 1397.8,518.7 1399.3,533.8 1400.8,552.2 1402.4,548.8 1403.9,530.8 1405.4,543.7 1406.9,549.1 1408.5,574.1 1410.0,526.8 1411.5,532.5 1413.1,560.3 1414.6,531.1 1416.1,492.4 1417.6,514.6 1419.2,523.1 1420.7,549.4 1422.2,569.2 1423.8,533.6 1425.3,569.1 1426.8,587.3 1428.3,576.6 1429.9,538.5 1431.4,532.6 1432.9,539.5 1434.5,546.8 1436.0,542.9 1437.5,564.1 1439.0,555.4 1440.6,535.3 1442.1,541.8 1443.6,547.9 1445.1,516.5 1446.7,531.4 1448.2,543.9 1449.7,520.1 1451.3,520.1 1452.8,551.7 1454.3,533.6 1455.8,539.1 1457.4,553.2 1458.9,521.2 1460.4,511.1 1462.0,551.0 1463.5,577.0 1465.0,543.8 1466.5,520.8 1468.1,544.5 1469.6,552.4 1471.1,545.7 1472.7,567.4 1474.2,584.4 1475.7,507.3 1477.2,549.2 1478.8,593.4 1480.3,550.0 1481.8,558.8 1483.4,587.3 1484.9,553.5 1486.4,564.2 1487.9,568.1 1489.5,561.6 1491.0,557.1 1492.5,563.1 1494.1,550.5 1495.6,536.5 1497.1,560.5 1498.6,584.4 1500.2,537.2 1501.7,540.8 1503.2,573.1 1504.7,506.2 1506.3,543.4 1507.8,583.7 1509.3,553.2 1510.9,533.6 1512.4,622.4 1513.9,605.5 1515.4,558.5 1517.0,575.9 1518.5,561.9 1520.0,541.5 1521.6,513.4 1523.1,538.3 1524.6,557.9 1526.1,571.4 1527.7,548.5 1529.2,555.9 1530.7,572.4 1532.3,513.0 1533.8,531.1 1535.3,567.4 1536.8,557.3 1538.4,548.5 1539.9,553.2 1541.4,550.5 1543.0,568.4 1544.5,495.2 1546.0,572.6 1547.5,564.4 1549.1,550.7 1550.6,569.2 1552.1,548.0 1553.7,545.2 1555.2,527.5 1556.7,554.3 1558.2,560.1 1559.8,548.5 1561.3,555.3 1562.8,533.1 1564.3,523.6 1565.9,514.1 1567.4,551.0 1568.9,544.9 1570.5,547.1 1572.0,584.4 1573.5,570.2 1575.0,540.0 1576.6,556.7 1578.1,544.4 1579.6,532.2 1581.2,573.9 1582.7,585.2 1584.2,546.5 1585.7,511.3 1587.3,567.4 1588.8,532.1 1590.3,603.3 1591.9,550.0 1593.4,565.1 1594.9,567.2 1596.4,512.3 1598.0,521.0 1599.5,547.5 1601.0,531.0 1602.6,512.3 1604.1,556.3 1605.6,551.1 1607.1,536.7 1608.7,524.1 1610.2,538.9 1611.7,552.2 1613.3,536.8 1614.8,527.9 1616.3,528.7 1617.8,545.3 1619.4,512.3 1620.9,468.2 1622.4,564.5 1623.9,555.4 1625.5,538.7 1627.0,521.5 1628.5,545.7 1630.1,567.4 1631.6,552.8 1633.1,555.5 1634.6,567.4 1636.2,558.8 1637.7,537.1 1639.2,555.3 1640.8,503.8 1642.3,542.5 1643.8,498.5 1645.3,578.3 1646.9,562.3 1648.4,537.2 1649.9,556.8 1651.5,489.1 1653.0,520.8 1654.5,547.5 1656.0,540.2 1657.6,513.7 1659.1,537.5 1660.6,527.5 1662.2,502.2 1663.7,490.2 1665.2,524.4 1666.7,540.4 1668.3,572.4 1669.8,473.5 1671.3,492.4 1672.9,566.0 1674.4,557.2 1675.9,524.4 1677.4,537.9 1679.0,552.4 1680.5,527.0 1682.0,502.3 1683.6,532.5 1685.1,521.9 1686.6,522.5 1688.1,564.5 1689.7,545.7 1691.2,556.1 1692.7,548.6 1694.2,543.6 1695.8,591.5 1697.3,554.4 1698.8,567.4 1700.4,554.7 1701.9,537.9 1703.4,548.3 1704.9,552.4 1706.5,534.7 1708.0,503.0 1709.5,596.2 1711.1,523.8 1712.6,502.3 1714.1,576.3 1715.6,571.5 1717.2,560.6 1718.7,574.2 1720.2,552.2 1721.8,537.6 1723.3,521.5 1724.8,531.5 1726.3,553.6 1727.9,538.3 1729.4,525.5 1730.9,553.9 1732.5,541.5 1734.0,534.7 1735.5,549.3 1737.0,542.2 1738.6,553.2 1740.1,479.2 1741.6,506.2 1743.2,569.2 1744.7,525.2 1746.2,506.6 1747.7,559.6 1749.3,511.3 1750.8,553.9 1752.3,502.3 1753.8,519.9 1755.4,555.3 1756.9,548.5 1758.4,510.6 1760.0,505.2 1761.5,551.0 1763.0,515.6 1764.5,491.2 1766.1,519.8 1767.6,534.7 1769.1,510.9 1770.7,565.2 1772.2,517.9 1773.7,482.4 1775.2,529.2 1776.8,535.0 1778.3,556.0 1779.8,539.3 1781.4,557.7 1782.9,573.8 1784.4,573.0 1785.9,568.4"/>
<polyline stroke="#000000" points="1787.5,578.0 1789.0,568.3 1790.5,541.9 1792.1,519.4 1793.6,541.4 1795.1,563.8 1796.6,547.0 1798.2,546.7 1799.7,533.6 1801.2,568.8 1802.8,550.3 1804.3,528.4 1805.8,530.6 1807.3,551.4 1808.9,555.3 1810.4,520.4 1811.9,535.3 1813.4,512.3 1815.0,586.3 1816.5,551.9 1818.0,513.7 1819.6,560.4 1821.1,524.4 1822.6,547.9 1824.1,553.7 1825.7,570.2 1827.2,555.6 1828.7,559.1 1830.3,567.2 1831.8,550.3 1833.3,523.2 1834.8,566.7 1836.4,558.8 1837.9,546.8 1839.4,545.4 1841.0,554.2 1842.5,575.2 1844.0,554.1 1845.5,504.5 1847.1,518.6 1848.6,554.9 1850.1,541.0 1851.7,532.9 1853.2,584.4 1854.7,488.4 1856.2,505.2 1857.8,553.5 1859.3,563.1 1860.8,517.5 1862.4,563.2 1863.9,540.7 1865.4,565.3 1866.9,558.0 1868.5,557.1 1870.0,587.3 1871.5,570.6 1873.0,540.3 1874.6,549.8 1876.1,563.8 1877.6,534.3 1879.2,560.1 1880.7,582.3 1882.2,534.0 1883.7,502.3 1885.3,515.7 1886.8,570.2 1888.3,549.0 1889.9,514.4 1891.4,531.5 1892.9,549.4 1894.4,528.5 1896.0,509.7 1897.5,580.9 1899.0,574.1 1900.6,526.8 1902.1,522.0 1903.6,588.0 1905.1,584.4 1906.7,548.5 1908.2,558.1 1909.7,590.1 1911.3,624.0 1912.8,599.3 1914.3,552.8 1915.8,551.5 1917.4,572.4 1918.9,568.1 1920.4,522.2 1922.0,601.2 1923.5,643.4 1925.0,565.6 1926.5,601.7 1928.1,628.1 1929.6,575.3 1931.1,582.8 1932.6,583.7 1934.2,541.4 1935.7,565.3 1937.2,583.3 1938.8,598.2 1940.3,577.2 1941.8,519.4 1943.3,536.8 1944.9,564.8"/>
<polyline stroke="#000000" points="1946.4,593.0 1947.9,559.6 1949.5,580.7 1951.0,604.1 1952.5,572.4 1954.0,550.2 1955.6,556.0 1957.1,570.6 1958.6,550.0 1960.2,594.4 1961.7,566.0 1963.2,538.3 1964.7,591.5 1966.3,587.4 1967.8,558.5 1969.3,594.4 1970.9,565.3 1972.4,544.6 1973.9,561.9 1975.4,584.4 1977.0,570.8 1978.5,553.5 1980.0,583.0 1981.6,596.2 1983.1,578.6 1984.6,543.1 1986.1,551.4 1987.7,560.4 1989.2,558.3 1990.7,550.7 1992.3,570.2 1993.8,539.0 1995.3,523.2 1996.8,561.0 1998.4,560.6 1999.9,549.4 2001.4,550.7 2002.9,607.5 2004.5,562.5 2006.0,545.4 2007.5,611.0 2009.1,572.3 2010.6,547.4 2012.1,556.5 2013.6,568.2 2015.2,554.2 2016.7,570.9 2018.2,532.4 2019.8,511.3 2021.3,587.3 2022.8,564.2 2024.3,537.0 2025.9,606.2 2027.4,521.5 2028.9,527.4 2030.5,555.3 2032.0,533.6 2033.5,518.3 2035.0,529.6 2036.6,540.2 2038.1,570.2 2039.6,545.7 2041.2,561.3 2042.7,571.2 2044.2,582.0 2045.7,591.5 2047.3,526.5 2048.8,605.8 2050.3,550.7 2051.9,561.9 2053.4,573.1 2054.9,531.5 2056.4,541.3 2058.0,565.7 2059.5,550.7 2061.0,611.0 2062.5,581.9 2064.1,492.4 2065.6,529.3 2067.1,563.8 2068.7,540.7 2070.2,559.3 2071.7,558.5 2073.2,551.4 2074.8,570.9 2076.3,560.3 2077.8,545.0 2079.4,563.8 2080.9,531.5 2082.4,545.8 2083.9,535.7 2085.5,539.1 2087.0,539.1"/>
<polyline stroke="#0072bd" points="250.1,947.4 251.6,943.4 253.1,947.0 254.7,949.7 256.2,951.0 257.7,952.3 259.2,953.2 260.8,953.9 262.3,954.2 263.8,954.6 265.3,954.6 266.9,954.6 268.4,954.3 269.9,954.1 271.4,954.0 273.0,953.8 274.5,953.5 276.0,953.3 277.5,953.0 279.1,952.5 280.6,952.4 282.1,951.9 283.6,951.6 285.2,951.2 286.7,950.7 288.2,950.3 289.8,950.0 291.3,949.6 292.8,949.0 294.3,948.4 295.9,948.2 297.4,947.4 298.9,946.6 300.4,945.7 302.0,944.8 303.5,943.9 305.0,942.7 306.5,941.2 308.1,939.7 309.6,938.1 311.1,935.0 312.6,931.9 314.2,933.8 315.7,935.3 317.2,935.8 318.8,936.2 320.3,936.7 321.8,937.1 323.3,936.9 324.9,936.6 326.4,936.2 327.9,935.8 329.4,935.4 331.0,934.9 332.5,934.3 334.0,933.6 335.5,932.9 337.1,932.1 338.6,931.3 340.1,929.3 341.6,927.6 343.2,925.7 344.7,923.4 346.2,920.3 347.7,918.2 349.3,919.3 350.8,920.1 352.3,920.7 353.9,921.1 355.4,921.4 356.9,921.0 358.4,919.8 360.0,918.9 361.5,917.1 363.0,914.9 364.5,910.8 366.1,903.2 367.6,911.7 369.1,914.5 370.6,915.0 372.2,915.4 373.7,915.9 375.2,916.0 376.7,915.6 378.3,915.4 379.8,915.1 381.3,914.9 382.8,913.1 384.4,911.6 385.9,910.1 387.4,906.9 389.0,903.3 390.5,901.1 392.0,905.3 393.5,907.0 395.1,907.5 396.6,907.7 398.1,908.1 399.6,907.1 401.2,906.0 402.7,905.0 404.2,903.8 405.7,901.2 407.3,898.6 408.8,896.1 410.3,893.7 411.8,894.0 413.4,895.5 414.9,896.2 416.4,896.6 418.0,896.9 419.5,895.8 421.0,894.2 422.5,892.6 424.1,890.0 425.6,886.3 427.1,877.3 428.6,882.0 430.2,885.4 431.7,885.4 433.2,885.0 434.7,884.1 436.3,881.2 437.8,878.2 439.3,874.3 440.8,871.1 442.4,874.5 443.9,874.8 445.4,874.6 446.9,874.1 448.5,870.3 450.0,866.6 451.5,864.0 453.1,865.2 454.6,865.6 456.1,863.3 457.6,861.1 459.2,858.4 460.7,857.2 462.2,855.0 463.7,854.2 465.3,852.2 466.8,850.1 468.3,847.8 469.8,847.0 471.4,846.4 472.9,844.5 474.4,841.3 475.9,840.4 477.5,839.4 479.0,839.1 480.5,837.0 482.1,834.8 483.6,832.8 485.1,831.3 486.6,830.4 488.2,829.2 489.7,827.2 491.2,824.4 492.7,819.3 494.3,821.3 495.8,823.1 497.3,820.9 498.8,819.5 500.4,818.1 501.9,819.2 503.4,821.7 504.9,821.4 506.5,819.9 508.0,820.3 509.5,819.2 511.0,816.8 512.6,819.4 514.1,821.4 515.6,821.7 517.2,823.3 518.7,822.4 520.2,823.2 521.7,822.9 523.3,824.0 524.8,824.5 526.3,824.8 527.8,825.6 529.4,824.4 530.9,824.5 532.4,825.0 533.9,825.2 535.5,826.6 537.0,825.7 538.5,826.9 540.0,828.8 541.6,826.3 543.1,825.0 544.6,825.2 546.2,825.5 547.7,825.9 549.2,826.6 550.7,824.2 552.3,823.5 554.6,826.0 555.2,700.0 555.9,548.0 556.0,356.5 556.1,548.0 556.8,700.0 557.6,831.0 559.3,868.0 561.0,904.0 562.9,960.0 564.8,1016.0 566.4,1064.0 568.0,1112.0 569.2,1148.0 570.6,1177.0 572.7,1205.0 574.5,1216.0 576.3,1215.1 577.8,1220.0 579.4,1225.1 580.9,1226.9 582.4,1217.5 583.9,1227.7 585.5,1228.4 587.0,1252.4 588.5,1238.0 590.1,1203.0 591.6,1212.9 593.1,1251.6 594.6,1230.8 596.2,1225.1 597.7,1267.4 599.2,1264.9 600.7,1250.7 602.3,1255.6 603.8,1280.6 605.3,1265.3 606.9,1247.0 608.4,1236.2 609.9,1246.9 611.4,1262.2 613.0,1266.8 614.5,1269.5 616.0,1240.7 617.5,1273.3 619.1,1255.6 620.6,1292.3 622.1,1262.6 623.7,1251.1 625.2,1260.3 626.7,1259.9 628.2,1279.5 629.8,1271.3 631.3,1241.1 632.8,1247.3 634.3,1259.6 635.9,1256.3 637.4,1248.3 638.9,1262.6 640.5,1297.5 642.0,1255.6 643.5,1262.3 645.0,1266.2 646.6,1262.4 648.1,1251.2 649.6,1237.2 651.2,1242.7 652.7,1257.4 654.2,1266.7 655.7,1234.6 657.3,1259.7 658.8,1268.1 660.3,1240.7 661.8,1242.8 663.4,1254.1 664.9,1233.6 666.4,1269.2 668.0,1268.8 669.5,1248.1 671.0,1240.3 672.5,1283.7 674.1,1267.8 675.6,1248.5 677.1,1268.1 678.6,1235.3 680.2,1240.4 681.7,1252.4 683.2,1250.0 684.8,1258.8 686.3,1264.6 687.8,1271.6 689.3,1231.2 690.9,1252.7 692.4,1238.1 693.9,1232.6 695.4,1259.6 697.0,1267.1 698.5,1288.7 700.0,1259.6 701.6,1274.1 703.1,1278.7 704.6,1279.5 706.1,1263.5 707.7,1269.8 709.2,1272.9 710.7,1280.9 712.3,1285.2 713.8,1267.7 715.3,1257.4 716.8,1274.0 718.4,1288.9 719.9,1277.0 721.4,1300.5 722.9,1281.9 724.5,1256.4 726.0,1269.3 727.5,1275.2 729.1,1260.4 730.6,1255.2 732.1,1246.0 733.6,1275.2 735.2,1271.1 736.7,1264.0 738.2,1271.7 739.7,1262.5 741.3,1311.5 742.8,1275.1 744.3,1266.8 745.9,1260.5 747.4,1253.5 748.9,1302.6 750.4,1279.5 752.0,1254.2 753.5,1284.4 755.0,1274.5 756.5,1271.6 758.1,1300.5 759.6,1269.9 761.1,1280.7 762.7,1280.9 764.2,1277.9 765.7,1257.9 767.2,1248.3 768.8,1279.5 770.3,1275.1 771.8,1264.2 773.4,1299.7 774.9,1254.8 776.4,1234.3 777.9,1265.7 779.5,1287.3 781.0,1260.3 782.5,1250.7 784.0,1280.6 785.6,1266.3 787.1,1264.1 788.6,1242.6 790.2,1261.8 791.7,1264.9 793.2,1228.3 794.7,1214.4 796.3,1281.2 797.8,1229.6 799.3,1249.2 800.8,1259.2 802.4,1272.4 803.9,1233.2 805.4,1324.3 807.0,1293.2 808.5,1316.1 810.0,1325.4 811.5,1260.6 813.1,1288.4 814.6,1249.5 816.1,1282.5 817.6,1297.2 819.2,1277.3 820.7,1273.0 822.2,1259.2 823.8,1264.3 825.3,1280.9 826.8,1246.4 828.3,1261.1 829.9,1295.1 831.4,1278.9 832.9,1264.3 834.5,1245.0 836.0,1299.4 837.5,1249.9 839.0,1223.2 840.6,1234.4 842.1,1289.6 843.6,1312.4 845.1,1268.3 846.7,1232.6 848.2,1300.1 849.7,1244.3 851.3,1245.7 852.8,1300.1 854.3,1279.7 855.8,1250.7 857.4,1252.0 858.9,1263.9 860.4,1280.2 861.9,1235.3 863.5,1271.6 865.0,1265.9 866.5,1250.7 868.1,1269.5 869.6,1287.2 871.1,1274.8 872.6,1315.7 874.2,1274.4 875.7,1213.4 877.2,1241.1 878.7,1259.6 880.3,1243.6 881.8,1271.5 883.3,1260.6 884.9,1288.7 886.4,1188.4 887.9,1200.2 889.4,1228.5 891.0,1238.6 892.5,1261.7 894.0,1198.1 895.6,1273.8 897.1,1228.5 898.6,1189.1 900.1,1217.5 901.7,1268.8 903.2,1223.7 904.7,1293.0 906.2,1282.7 907.8,1289.2 909.3,1302.8 910.8,1223.2 912.4,1296.5 913.9,1283.7 915.4,1279.4 916.9,1235.3 918.5,1307.2 920.0,1276.3 921.5,1213.4 923.0,1256.6 924.6,1265.0 926.1,1247.8 927.6,1284.0 929.2,1248.0 930.7,1235.3 932.2,1255.6 933.7,1270.8 935.3,1245.7 936.8,1278.8 938.3,1266.0 939.8,1256.2 941.4,1250.0 942.9,1272.4 944.4,1253.4 946.0,1247.4 947.5,1278.0 949.0,1270.8 950.5,1245.4 952.1,1255.4 953.6,1265.2 955.1,1252.6 956.7,1239.3 958.2,1291.3 959.7,1322.8 961.2,1288.4 962.8,1225.5 964.3,1254.3 965.8,1292.4 967.3,1297.9 968.9,1232.6 970.4,1279.5 971.9,1267.4 973.5,1259.5 975.0,1252.1 976.5,1283.5 978.0,1271.3 979.6,1316.0 981.1,1275.2 982.6,1240.3 984.1,1296.5 985.7,1282.7 987.2,1279.8 988.7,1301.9 990.3,1248.5 991.8,1271.3 993.3,1232.2 994.8,1283.4 996.4,1271.4 997.9,1251.9 999.4,1224.4 1000.9,1232.0 1002.5,1246.8 1004.0,1246.0 1005.5,1250.7 1007.1,1286.3 1008.6,1271.3 1010.1,1259.3 1011.6,1247.4 1013.2,1281.4 1014.7,1298.5 1016.2,1310.0 1017.8,1236.5 1019.3,1309.3 1020.8,1293.0 1022.3,1268.4 1023.9,1280.9 1025.4,1267.9 1026.9,1258.9 1028.4,1249.3 1030.0,1291.1 1031.5,1242.6 1033.0,1264.2 1034.6,1273.0 1036.1,1280.9 1037.6,1254.2 1039.1,1276.2 1040.7,1217.0 1042.2,1227.5 1043.7,1247.5 1045.2,1245.3 1046.8,1220.5 1048.3,1312.9 1049.8,1272.7 1051.4,1283.7 1052.9,1253.2 1054.4,1262.1 1055.9,1346.3 1057.5,1313.3 1059.0,1242.9 1060.5,1286.8 1062.0,1285.9 1063.6,1210.4 1065.1,1265.5 1066.6,1227.2 1068.2,1277.3 1069.7,1211.3 1071.2,1229.6 1072.7,1293.0 1074.3,1264.0 1075.8,1241.4 1077.3,1264.5 1078.9,1270.9 1080.4,1250.7 1081.9,1262.1 1083.4,1262.9 1085.0,1241.4 1086.5,1278.0 1088.0,1261.1 1089.5,1237.5 1091.1,1254.3 1092.6,1280.9 1094.1,1243.4 1095.7,1205.6 1097.2,1235.4 1098.7,1216.5 1100.2,1256.0 1101.8,1194.5 1103.3,1211.4 1104.8,1254.3 1106.3,1234.8 1107.9,1229.6 1109.4,1292.0 1110.9,1220.5 1112.5,1243.7 1114.0,1268.1 1115.5,1221.5 1117.0,1231.9 1118.6,1260.9 1120.1,1245.7 1121.6,1287.3 1123.1,1247.5 1124.7,1208.3 1126.2,1268.8 1127.7,1253.0 1129.3,1255.4 1130.8,1230.8 1132.3,1253.9 1133.8,1225.1 1135.4,1197.4 1136.9,1221.7 1138.4,1256.0 1140.0,1234.5 1141.5,1222.5 1143.0,1246.8 1144.5,1227.6 1146.1,1208.3 1147.6,1261.0 1149.1,1254.2 1150.6,1228.9 1152.2,1205.6 1153.7,1259.6 1155.2,1250.4 1156.8,1224.4 1158.3,1234.9 1159.8,1283.0 1161.3,1231.5 1162.9,1233.8 1164.4,1279.4 1165.9,1290.1 1167.4,1202.8 1169.0,1253.6 1170.5,1246.9 1172.0,1228.4 1173.6,1252.4 1175.1,1252.0 1176.6,1240.0 1178.1,1263.1 1179.7,1248.8 1181.2,1230.9 1182.7,1209.7 1184.2,1280.9 1185.8,1202.3 1187.3,1236.1 1188.8,1255.3 1190.4,1213.6 1191.9,1207.3 1193.4,1284.7 1194.9,1253.7 1196.5,1229.3 1198.0,1227.8 1199.5,1236.1 1201.1,1225.3 1202.6,1212.6 1204.1,1241.7 1205.6,1202.3 1207.2,1267.1 1208.7,1256.0 1210.2,1244.6 1211.7,1230.8 1213.3,1240.4 1214.8,1196.2 1216.3,1239.5 1217.9,1290.1 1219.4,1232.9 1220.9,1266.8 1222.4,1229.0 1224.0,1220.1 1225.5,1267.1 1227.0,1232.1 1228.5,1160.4 1230.1,1194.6 1231.6,1241.0 1233.1,1248.9 1234.7,1229.3 1236.2,1244.1 1237.7,1257.4 1239.2,1238.6 1240.8,1287.3 1242.3,1263.1 1243.8,1298.7 1245.3,1268.5 1246.9,1207.3 1248.4,1264.5 1249.9,1180.3 1251.5,1209.9 1253.0,1244.0 1254.5,1221.5 1256.0,1232.5 1257.6,1276.9 1259.1,1205.2 1260.6,1219.0 1262.2,1263.2 1263.7,1234.3 1265.2,1268.1 1266.7,1214.1 1268.3,1223.6 1269.8,1235.0 1271.3,1236.8 1272.8,1232.6 1274.4,1252.9 1275.9,1248.4 1277.4,1197.1 1279.0,1219.7 1280.5,1259.3 1282.0,1247.1 1283.5,1234.3 1285.1,1246.8 1286.6,1239.7 1288.1,1239.9 1289.6,1225.5 1291.2,1280.2 1292.7,1242.2 1294.2,1238.6 1295.8,1268.1 1297.3,1208.3 1298.8,1190.5 1300.3,1275.2 1301.9,1253.6 1303.4,1232.7 1304.9,1227.5 1306.4,1282.3 1308.0,1247.6 1309.5,1240.3 1311.0,1280.2 1312.6,1273.4 1314.1,1239.1 1315.6,1227.9 1317.1,1273.8 1318.7,1235.0 1320.2,1209.0 1321.7,1270.9 1323.3,1257.8 1324.8,1213.5 1326.3,1182.1 1327.8,1247.5 1329.4,1235.9 1330.9,1231.2 1332.4,1233.6 1333.9,1265.2 1335.5,1252.5 1337.0,1242.9 1338.5,1230.1 1340.1,1252.4 1341.6,1241.7 1343.1,1221.5 1344.6,1202.7 1346.2,1178.4 1347.7,1224.1 1349.2,1262.4 1350.7,1213.0 1352.3,1199.5 1353.8,1201.1 1355.3,1215.5 1356.9,1187.4 1358.4,1201.6 1359.9,1210.2 1361.4,1216.2 1363.0,1200.6 1364.5,1238.2 1366.0,1223.9 1367.5,1222.4 1369.1,1209.7 1370.6,1255.0 1372.1,1250.3 1373.7,1225.6 1375.2,1214.7 1376.7,1239.8 1378.2,1228.6 1379.8,1258.1 1381.3,1204.5 1382.8,1215.1 1384.4,1252.6 1385.9,1224.4 1387.4,1263.1 1388.9,1244.4 1390.5,1214.4 1392.0,1279.2 1393.5,1246.9 1395.0,1258.2 1396.6,1206.6 1398.1,1270.9 1399.6,1254.7 1401.2,1230.4 1402.7,1214.4 1404.2,1239.1 1405.7,1257.4 1407.3,1217.0 1408.8,1226.8 1410.3,1266.7 1411.8,1250.8 1413.4,1240.0 1414.9,1269.2 1416.4,1237.4 1418.0,1222.5 1419.5,1259.6 1421.0,1232.4 1422.5,1230.2 1424.1,1192.4 1425.6,1200.3 1427.1,1218.3 1428.6,1209.7 1430.2,1219.8 1431.7,1248.2 1433.2,1244.3 1434.8,1240.7 1436.3,1251.7 1437.8,1233.1 1439.3,1217.5 1440.9,1245.3 1442.4,1221.2 1443.9,1198.5 1445.5,1252.2 1447.0,1232.7 1448.5,1227.9 1450.0,1247.5 1451.6,1227.9 1453.1,1257.4 1454.6,1227.4 1456.1,1197.4 1457.7,1213.9 1459.2,1251.1 1460.7,1283.4 1462.3,1250.0 1463.8,1248.6 1465.3,1269.0 1466.8,1272.4 1468.4,1205.6 1469.9,1225.4 1471.4,1203.3 1472.9,1216.2 1474.5,1228.1 1476.0,1208.7 1477.5,1274.5 1479.1,1221.8 1480.6,1186.4 1482.1,1214.0 1483.6,1239.7 1485.2,1209.2 1486.7,1179.3 1488.2,1221.2 1489.7,1210.1 1491.3,1188.8 1492.8,1245.1 1494.3,1228.6 1495.9,1214.4 1497.4,1230.6 1498.9,1193.8 1500.4,1237.9 1502.0,1178.2 1503.5,1207.0 1505.0,1256.7 1506.6,1219.0 1508.1,1186.7 1509.6,1190.6 1511.1,1207.7 1512.7,1203.9 1514.2,1175.3 1515.7,1217.7 1517.2,1269.2 1518.8,1224.4 1520.3,1238.5 1521.8,1200.2 1523.4,1206.3 1524.9,1241.8 1526.4,1221.2 1527.9,1201.3 1529.5,1215.7 1531.0,1210.7 1532.5,1222.6 1534.0,1196.2 1535.6,1244.3 1537.1,1233.6 1538.6,1171.1 1540.2,1182.5 1541.7,1218.7 1543.2,1258.1 1544.7,1182.4 1546.3,1190.1 1547.8,1204.5 1549.3,1212.6 1550.8,1186.4 1552.4,1210.9 1553.9,1225.2 1555.4,1238.9 1557.0,1214.4 1558.5,1224.3 1560.0,1225.1 1561.5,1214.2 1563.1,1205.6 1564.6,1240.4 1566.1,1197.7 1567.7,1179.3 1569.2,1204.9 1570.7,1245.3 1572.2,1142.3 1573.8,1176.3 1575.3,1228.6 1576.8,1167.5 1578.3,1172.4 1579.9,1204.8 1581.4,1218.3 1582.9,1158.3 1584.5,1226.0 1586.0,1270.2 1587.5,1188.8 1589.0,1250.9 1590.6,1131.2 1592.1,1189.8 1593.6,1244.3 1595.1,1207.7 1596.7,1194.5 1598.2,1226.9 1599.7,1225.0 1601.3,1211.6 1602.8,1251.7 1604.3,1161.8 1605.8,1196.3 1607.4,1224.7 1608.9,1221.5 1610.4,1194.5 1611.9,1210.8 1613.5,1217.3 1615.0,1241.1 1616.5,1210.2 1618.1,1230.7 1619.6,1271.4 1621.1,1191.2 1622.6,1216.9 1624.2,1213.4 1625.7,1231.1 1627.2,1195.2 1628.8,1220.9 1630.3,1240.4 1631.8,1190.5 1633.3,1200.8 1634.9,1223.9 1636.4,1227.6 1637.9,1191.2 1639.4,1222.0 1641.0,1223.6 1642.5,1210.2 1644.0,1257.1 1645.6,1184.1 1647.1,1198.1 1648.6,1245.4 1650.1,1240.2 1651.7,1221.5 1653.2,1240.4 1654.7,1225.4 1656.2,1223.5 1657.8,1212.6 1659.3,1237.1 1660.8,1206.2 1662.4,1190.5 1663.9,1209.8 1665.4,1225.4 1666.9,1223.1 1668.5,1158.3 1670.0,1251.3 1671.5,1229.8 1673.0,1201.5 1674.6,1203.0 1676.1,1244.6 1677.6,1236.1 1679.2,1198.8 1680.7,1213.4 1682.2,1234.0 1683.7,1215.2 1685.3,1202.3 1686.8,1210.6 1688.3,1207.8 1689.9,1216.9 1691.4,1145.2 1692.9,1197.3 1694.4,1219.0 1696.0,1200.2 1697.5,1175.3 1699.0,1187.4 1700.5,1224.7 1702.1,1219.5 1703.6,1214.4 1705.1,1230.8 1706.7,1256.0 1708.2,1171.5 1709.7,1181.2 1711.2,1224.7 1712.8,1171.5 1714.3,1189.5 1715.8,1208.3 1717.3,1188.1 1718.9,1227.6 1720.4,1173.6 1721.9,1209.0 1723.5,1249.2 1725.0,1224.4 1726.5,1238.5 1728.0,1207.0 1729.6,1248.2 1731.1,1237.7 1732.6,1213.4 1734.1,1264.3 1735.7,1239.7 1737.2,1221.5 1738.7,1222.9 1740.3,1263.5 1741.8,1249.4 1743.3,1190.5 1744.8,1205.2 1746.4,1247.9 1747.9,1231.6 1749.4,1223.2 1751.0,1222.2 1752.5,1242.8 1754.0,1239.6 1755.5,1173.9 1757.1,1248.2 1758.6,1239.4 1760.1,1222.0 1761.6,1218.7 1763.2,1244.6 1764.7,1231.0 1766.2,1227.2 1767.8,1254.2 1769.3,1203.0 1770.8,1216.3 1772.3,1254.0 1773.9,1234.3 1775.4,1282.3 1776.9,1261.5 1778.4,1234.9 1780.0,1212.9 1781.5,1186.7 1783.0,1211.2 1784.6,1201.2 1786.1,1202.6"/>
<polyline stroke="#0072bd" points="1787.6,1198.1 1789.1,1235.4 1790.7,1230.7 1792.2,1221.3 1793.7,1215.3 1795.2,1207.3 1796.8,1231.1 1798.3,1218.5 1799.8,1213.0 1801.4,1232.1 1802.9,1202.1 1804.4,1191.0 1805.9,1251.0 1807.5,1245.8 1809.0,1197.4 1810.5,1171.1 1812.1,1231.2 1813.6,1272.4 1815.1,1178.2 1816.6,1231.4 1818.2,1252.7 1819.7,1220.1 1821.2,1222.4 1822.7,1266.4 1824.3,1176.0 1825.8,1215.6 1827.3,1239.7 1828.9,1194.5 1830.4,1226.2 1831.9,1277.3 1833.4,1246.2 1835.0,1222.2 1836.5,1252.4 1838.0,1242.2 1839.5,1211.5 1841.1,1180.0 1842.6,1272.4 1844.1,1261.6 1845.7,1233.5 1847.2,1221.5 1848.7,1237.8 1850.2,1259.3 1851.8,1221.5 1853.3,1219.3 1854.8,1235.4 1856.3,1173.2 1857.9,1188.3 1859.4,1228.2 1860.9,1241.1 1862.5,1207.3 1864.0,1172.0 1865.5,1173.7 1867.0,1189.9 1868.6,1199.1 1870.1,1156.1 1871.6,1219.0 1873.2,1189.8 1874.7,1183.1 1876.2,1225.2 1877.7,1211.5 1879.3,1201.5 1880.8,1195.9 1882.3,1216.9 1883.8,1193.7 1885.4,1267.1 1886.9,1187.1 1888.4,1207.3 1890.0,1211.8 1891.5,1223.3 1893.0,1205.9 1894.5,1208.0 1896.1,1215.5 1897.6,1197.7 1899.1,1170.1 1900.6,1188.2 1902.2,1222.3 1903.7,1205.5 1905.2,1167.9 1906.8,1206.5 1908.3,1233.3 1909.8,1213.1 1911.3,1129.8 1912.9,1146.8 1914.4,1238.7 1915.9,1223.6 1917.4,1164.2 1919.0,1177.4 1920.5,1216.2 1922.0,1205.3 1923.6,1189.4 1925.1,1168.9 1926.6,1201.3 1928.1,1195.9 1929.7,1181.0 1931.2,1221.9 1932.7,1215.9 1934.3,1203.8 1935.8,1247.2 1937.3,1198.8 1938.8,1202.5 1940.4,1203.6 1941.9,1204.1 1943.4,1176.0 1944.9,1169.6"/>
<polyline stroke="#0072bd" points="1946.5,1230.0 1948.0,1212.0 1949.5,1179.6 1951.1,1160.1 1952.6,1211.2 1954.1,1217.0 1955.6,1203.5 1957.2,1207.3 1958.7,1247.2 1960.2,1217.8 1961.7,1211.9 1963.3,1185.3 1964.8,1219.9 1966.3,1240.4 1967.9,1214.1 1969.4,1215.3 1970.9,1165.4 1972.4,1229.6 1974.0,1237.9 1975.5,1199.5 1977.0,1199.5 1978.5,1199.8 1980.1,1160.1 1981.6,1171.9 1983.1,1206.4 1984.7,1250.3 1986.2,1190.2 1987.7,1201.2 1989.2,1200.2 1990.8,1203.6 1992.3,1207.0 1993.8,1178.2 1995.4,1228.3 1996.9,1208.4 1998.4,1207.3 1999.9,1247.5 2001.5,1183.6 2003.0,1163.9 2004.5,1223.3 2006.0,1208.5 2007.6,1199.0 2009.1,1179.9 2010.6,1187.8 2012.2,1210.0 2013.7,1230.1 2015.2,1189.5 2016.7,1198.2 2018.3,1225.7 2019.8,1242.2 2021.3,1210.2 2022.8,1206.7 2024.4,1205.5 2025.9,1159.3 2027.4,1212.3 2029.0,1244.3 2030.5,1224.2 2032.0,1184.3 2033.5,1243.5 2035.1,1226.3 2036.6,1207.3 2038.1,1230.4 2039.6,1214.8 2041.2,1221.9 2042.7,1228.0 2044.2,1214.1 2045.8,1186.7 2047.3,1205.5 2048.8,1162.5 2050.3,1194.1 2051.9,1202.6 2053.4,1188.8 2054.9,1192.1 2056.5,1215.9 2058.0,1156.1 2059.5,1163.0 2061.0,1184.2 2062.6,1153.3 2064.1,1173.7 2065.6,1221.2 2067.1,1214.2 2068.7,1218.7 2070.2,1256.7 2071.7,1241.8 2073.3,1219.8 2074.8,1179.6 2076.3,1267.8 2077.8,1167.2 2079.4,1225.4 2080.9,1219.2 2082.4,1207.3 2083.9,1241.4 2085.5,1235.4 2087.0,1237.3"/>
</g>
<text class="t" transform="translate(248.7,1560.0) scale(1,1.021)" text-anchor="middle">-0.2</text>
<text class="t" transform="translate(554.2,1560.0) scale(1,1.021)" text-anchor="middle">0</text>
<text class="t" transform="translate(859.7,1560.0) scale(1,1.021)" text-anchor="middle">0.2</text>
<text class="t" transform="translate(1165.2,1560.0) scale(1,1.021)" text-anchor="middle">0.4</text>
<text class="t" transform="translate(1470.7,1560.0) scale(1,1.021)" text-anchor="middle">0.6</text>
<text class="t" transform="translate(1776.2,1560.0) scale(1,1.021)" text-anchor="middle">0.8</text>
<text class="t" transform="translate(2081.7,1560.0) scale(1,1.021)" text-anchor="middle">1</text>
<text class="t" transform="translate(222.0,67.0) scale(1,1.021)" text-anchor="end">4</text>
<text class="t" transform="translate(222.0,225.0) scale(1,1.021)" text-anchor="end">2</text>
<text class="t" transform="translate(222.0,383.0) scale(1,1.021)" text-anchor="end">0</text>
<text class="t" transform="translate(222.0,541.0) scale(1,1.021)" text-anchor="end">-2</text>
<text class="t" transform="translate(222.0,699.0) scale(1,1.021)" text-anchor="end">-4</text>
<text class="t" transform="translate(222.0,857.0) scale(1,1.021)" text-anchor="end">-6</text>
<text class="t" transform="translate(222.0,1015.0) scale(1,1.021)" text-anchor="end">-8</text>
<text class="t" transform="translate(222.0,1173.0) scale(1,1.021)" text-anchor="end">-10</text>
<text class="t" transform="translate(222.0,1331.0) scale(1,1.021)" text-anchor="end">-12</text>
<text class="t" transform="translate(222.0,1489.0) scale(1,1.021)" text-anchor="end">-14</text>
<text class="l" transform="translate(1167.0,1662.8)" text-anchor="middle">k</text>
<text class="l" transform="translate(86.5,756.5) rotate(-90)" text-anchor="middle">Lyapunov</text>
<g shape-rendering="crispEdges">
<rect x="1701" y="664" width="337" height="429" fill="#fff"/>
<rect x="1701" y="664" width="337" height="3" fill="#262626"/><rect x="1701" y="1090" width="337" height="3" fill="#262626"/><rect x="1701" y="664" width="4" height="429" fill="#262626"/><rect x="2034" y="664" width="4" height="429" fill="#262626"/>
<rect x="1719" y="712" width="170" height="4" fill="#ff0000"/>
<rect x="1719" y="794" width="170" height="4" fill="#00ff00"/>
<rect x="1719" y="877" width="170" height="3" fill="#0000ff"/>
<rect x="1719" y="959" width="170" height="4" fill="#000000"/>
<rect x="1719" y="1041" width="170" height="4" fill="#0072bd"/>
</g>
<text class="g" transform="translate(1899.8,736.9) scale(1,1.012)">LE1</text>
<text class="g" transform="translate(1899.8,819.0) scale(1,1.012)">LE2</text>
<text class="g" transform="translate(1899.8,901.1) scale(1,1.012)">LE3</text>
<text class="g" transform="translate(1899.8,983.2) scale(1,1.012)">LE4</text>
<text class="g" transform="translate(1899.8,1065.3) scale(1,1.012)">LE5</text>
</svg>
</body></html>
